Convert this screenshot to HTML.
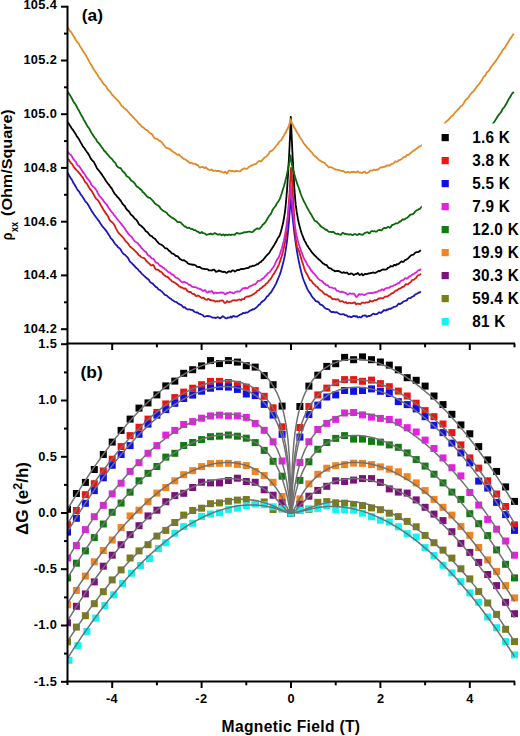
<!DOCTYPE html>
<html><head><meta charset="utf-8"><title>figure</title><style>html,body{margin:0;padding:0;background:#fff;width:520px;height:736px;overflow:hidden}
svg{display:block}
text{font-family:"Liberation Sans",sans-serif;font-weight:bold;fill:#000}
.tl{font-size:12.8px;letter-spacing:0.35px}
.lg{font-size:17px;letter-spacing:0.3px}
.pl{font-size:16.5px}
.al{font-size:15.4px}
.al2{font-size:17px}
.sub{font-size:11.4px}
.sup{font-size:12.5px}
.xl{font-size:15.6px;letter-spacing:0.35px}
</style></head><body>
<svg width="520" height="736" viewBox="0 0 520 736">
<defs><clipPath id="ca"><rect x="67.5" y="0" width="460" height="344"/></clipPath><clipPath id="cb"><rect x="67.5" y="344" width="460" height="338"/></clipPath></defs>
<rect width="520" height="736" fill="#fff"/>
<g clip-path="url(#ca)" fill="none" stroke-width="1.8" stroke-linejoin="round">
<path d="M67.8,172.8 L68.8,174.9 L69.8,176.8 L70.8,178.3 L71.8,179.6 L72.8,181.7 L73.8,183.5 L74.8,185.0 L75.8,186.7 L76.8,188.6 L77.8,190.3 L78.8,191.1 L79.8,192.8 L80.8,194.7 L81.8,195.6 L82.8,197.2 L83.8,198.7 L84.8,200.4 L85.8,201.9 L86.8,202.8 L87.8,204.3 L88.8,205.9 L89.8,207.7 L90.8,209.4 L91.8,211.4 L92.8,212.6 L93.8,214.4 L94.8,215.5 L95.8,216.9 L96.8,218.3 L97.8,219.6 L98.8,220.8 L99.8,222.6 L100.8,224.1 L101.8,225.5 L102.8,226.9 L103.8,227.9 L104.8,229.2 L105.8,230.4 L106.8,231.6 L107.8,233.4 L108.8,234.7 L109.8,236.4 L110.8,238.3 L111.8,239.2 L112.8,240.3 L113.8,241.9 L114.8,243.5 L115.8,244.7 L116.8,245.4 L117.8,247.0 L118.8,247.7 L119.8,248.4 L120.8,249.8 L121.8,251.7 L122.8,253.1 L123.8,254.2 L124.8,254.7 L125.8,255.7 L126.8,256.6 L127.8,257.6 L128.8,259.5 L129.8,261.4 L130.8,262.4 L131.8,263.0 L132.8,264.4 L133.8,265.2 L134.8,266.4 L135.8,267.6 L136.8,268.3 L137.8,269.2 L138.8,270.6 L139.8,271.5 L140.8,272.4 L141.8,273.8 L142.8,274.7 L143.8,275.6 L144.8,276.4 L145.8,277.6 L146.8,278.2 L147.8,279.0 L148.8,279.8 L149.8,281.6 L150.8,282.6 L151.8,283.2 L152.8,283.6 L153.8,284.8 L154.8,285.9 L155.8,287.0 L156.8,287.2 L157.8,288.6 L158.8,289.7 L159.8,289.9 L160.8,290.7 L161.8,291.4 L162.8,292.5 L163.8,293.7 L164.8,294.8 L165.8,295.1 L166.8,295.5 L167.8,296.6 L168.8,297.4 L169.8,298.2 L170.8,298.7 L171.8,299.8 L172.8,300.3 L173.8,300.9 L174.8,301.7 L175.8,301.8 L176.8,302.3 L177.8,303.3 L178.8,303.9 L179.8,304.4 L180.8,304.8 L181.8,305.5 L182.8,306.8 L183.8,307.5 L184.8,307.1 L185.8,308.4 L186.8,309.0 L187.8,309.5 L188.8,309.4 L189.8,309.4 L190.8,309.8 L191.8,309.9 L192.8,310.1 L193.8,311.3 L194.8,312.0 L195.8,312.3 L196.8,312.5 L197.8,312.5 L198.8,313.7 L199.8,313.9 L200.8,314.2 L201.8,314.7 L202.8,315.0 L203.8,316.4 L204.8,316.6 L205.8,316.4 L206.8,316.0 L207.8,315.8 L208.8,316.3 L209.8,316.2 L210.8,316.7 L211.8,317.2 L212.8,317.7 L213.8,317.6 L214.8,317.6 L215.8,318.1 L216.8,317.5 L217.8,317.1 L218.8,317.5 L219.8,318.4 L220.8,317.9 L221.8,317.0 L222.8,316.2 L223.8,316.8 L224.8,317.7 L225.8,318.3 L226.8,318.4 L227.8,317.4 L228.8,317.7 L229.8,317.6 L230.8,316.5 L231.8,317.5 L232.8,316.3 L233.8,315.9 L234.8,316.7 L235.8,316.7 L236.8,316.6 L237.8,316.1 L238.8,315.5 L239.8,314.8 L240.8,314.3 L241.8,314.1 L242.8,313.0 L243.8,313.2 L244.8,313.2 L245.8,312.4 L246.8,312.6 L247.8,312.3 L248.8,311.4 L249.8,310.7 L250.8,310.4 L251.8,309.9 L252.8,309.2 L253.8,309.4 L254.8,308.7 L255.8,307.8 L256.8,307.2 L257.8,306.1 L258.8,304.7 L259.8,304.6 L260.8,302.9 L261.8,302.0 L262.8,301.0 L263.8,300.6 L264.8,299.7 L265.8,298.2 L266.8,296.4 L267.8,296.2 L268.8,295.0 L269.8,293.2 L270.8,292.7 L271.8,291.0 L272.8,289.2 L273.8,287.8 L274.8,285.9 L275.8,284.1 L276.8,281.8 L277.8,279.4 L278.8,277.0 L279.8,274.6 L280.8,271.6 L281.8,268.0 L282.8,264.2 L283.8,260.1 L284.8,255.6 L285.0,254.6 L285.1,253.7 L285.3,252.9 L285.4,251.8 L285.6,250.7 L285.7,249.9 L285.8,249.5 L285.9,249.0 L286.0,248.0 L286.2,247.0 L286.3,245.8 L286.5,244.7 L286.6,243.8 L286.8,242.6 L287.0,241.3 L287.1,240.2 L287.3,238.8 L287.4,237.4 L287.6,235.9 L287.7,234.5 L287.8,233.8 L287.9,233.2 L288.0,231.6 L288.2,229.9 L288.3,228.3 L288.5,226.8 L288.6,225.0 L288.8,223.2 L289.0,221.3 L289.1,219.4 L289.3,217.5 L289.4,215.5 L289.6,213.5 L289.7,211.2 L289.8,210.0 L289.9,209.0 L290.0,206.7 L290.2,204.4 L290.3,201.9 L290.5,199.5 L290.6,197.2 L290.8,196.0 L291.0,198.1 L291.1,200.3 L291.3,202.2 L291.4,204.1 L291.6,206.0 L291.7,207.5 L291.8,208.3 L291.9,209.3 L292.0,211.1 L292.2,212.7 L292.3,214.4 L292.5,215.9 L292.6,217.4 L292.8,218.9 L293.0,220.4 L293.1,221.9 L293.3,223.3 L293.4,224.7 L293.6,226.2 L293.7,227.5 L293.8,228.4 L293.9,229.0 L294.0,230.0 L294.2,231.4 L294.3,232.8 L294.5,234.2 L294.6,235.2 L294.8,236.3 L295.0,237.5 L295.1,238.7 L295.3,239.8 L295.4,241.0 L295.6,242.0 L295.7,243.1 L295.8,243.9 L295.9,244.3 L296.0,245.1 L296.2,246.1 L296.3,247.2 L296.5,248.1 L296.6,249.1 L296.8,250.4 L297.8,256.2 L298.8,261.3 L299.8,266.0 L300.8,270.1 L301.8,274.1 L302.8,277.8 L303.8,280.5 L304.8,282.9 L305.8,285.3 L306.8,287.9 L307.8,289.9 L308.8,291.6 L309.8,292.8 L310.8,294.5 L311.8,296.2 L312.8,297.7 L313.8,298.7 L314.8,299.8 L315.8,301.2 L316.8,301.5 L317.8,301.5 L318.8,302.5 L319.8,304.0 L320.8,304.8 L321.8,304.9 L322.8,305.6 L323.8,306.9 L324.8,307.7 L325.8,308.4 L326.8,309.0 L327.8,309.2 L328.8,309.5 L329.8,310.8 L330.8,311.6 L331.8,312.1 L332.8,312.0 L333.8,312.0 L334.8,312.4 L335.8,312.5 L336.8,312.1 L337.8,312.9 L338.8,313.5 L339.8,314.1 L340.8,314.4 L341.8,314.3 L342.8,314.2 L343.8,314.2 L344.8,315.0 L345.8,315.1 L346.8,315.5 L347.8,316.5 L348.8,316.6 L349.8,316.4 L350.8,317.2 L351.8,317.1 L352.8,316.4 L353.8,315.9 L354.8,316.1 L355.8,316.6 L356.8,316.1 L357.8,317.4 L358.8,317.3 L359.8,316.9 L360.8,317.5 L361.8,316.8 L362.8,315.7 L363.8,315.6 L364.8,315.4 L365.8,315.7 L366.8,316.9 L367.8,316.3 L368.8,315.8 L369.8,316.0 L370.8,315.7 L371.8,314.7 L372.8,313.9 L373.8,313.6 L374.8,314.4 L375.8,314.2 L376.8,314.2 L377.8,313.4 L378.8,312.3 L379.8,312.5 L380.8,313.0 L381.8,312.1 L382.8,311.4 L383.8,310.1 L384.8,310.3 L385.8,310.5 L386.8,309.5 L387.8,309.8 L388.8,309.0 L389.8,308.6 L390.8,308.8 L391.8,308.0 L392.8,307.7 L393.8,306.9 L394.8,306.6 L395.8,306.6 L396.8,306.0 L397.8,304.6 L398.8,303.5 L399.8,304.2 L400.8,303.5 L401.8,303.1 L402.8,301.9 L403.8,301.3 L404.8,301.0 L405.8,300.7 L406.8,300.5 L407.8,298.7 L408.8,298.2 L409.8,298.2 L410.8,297.8 L411.8,297.0 L412.8,296.5 L413.8,296.1 L414.8,294.9 L415.8,294.1 L416.8,293.8 L417.8,293.3 L418.8,292.3 L419.8,292.5 L420.8,291.4" stroke="#1c16b8"/>
<path d="M68.0,159.0 L69.0,159.9 L70.0,161.8 L71.0,163.2 L72.0,164.1 L73.0,165.6 L74.0,167.3 L75.0,168.5 L76.0,169.5 L77.0,170.6 L78.0,171.6 L79.0,173.0 L80.0,173.9 L81.0,175.4 L82.0,176.7 L83.0,177.9 L84.0,179.9 L85.0,181.9 L86.0,182.7 L87.0,183.8 L88.0,185.7 L89.0,187.5 L90.0,188.9 L91.0,190.1 L92.0,191.3 L93.0,193.3 L94.0,195.1 L95.0,197.0 L96.0,198.6 L97.0,199.6 L98.0,200.3 L99.0,201.7 L100.0,203.6 L101.0,205.5 L102.0,207.1 L103.0,209.1 L104.0,210.5 L105.0,212.0 L106.0,213.7 L107.0,214.9 L108.0,216.3 L109.0,218.7 L110.0,220.4 L111.0,221.5 L112.0,222.2 L113.0,223.1 L114.0,224.6 L115.0,226.4 L116.0,228.6 L117.0,230.3 L118.0,231.9 L119.0,233.4 L120.0,234.3 L121.0,235.3 L122.0,236.3 L123.0,237.5 L124.0,238.6 L125.0,240.3 L126.0,241.6 L127.0,242.4 L128.0,243.5 L129.0,245.1 L130.0,246.5 L131.0,247.3 L132.0,248.1 L133.0,248.9 L134.0,249.9 L135.0,250.9 L136.0,251.8 L137.0,252.8 L138.0,254.2 L139.0,255.3 L140.0,255.7 L141.0,257.0 L142.0,257.5 L143.0,257.9 L144.0,257.9 L145.0,258.8 L146.0,260.7 L147.0,261.4 L148.0,262.6 L149.0,263.4 L150.0,264.3 L151.0,265.4 L152.0,265.3 L153.0,264.7 L154.0,266.1 L155.0,268.3 L156.0,269.6 L157.0,269.6 L158.0,269.7 L159.0,270.4 L160.0,271.6 L161.0,271.7 L162.0,272.6 L163.0,274.0 L164.0,274.9 L165.0,275.6 L166.0,276.6 L167.0,276.6 L168.0,277.1 L169.0,278.3 L170.0,279.3 L171.0,280.2 L172.0,281.5 L173.0,281.6 L174.0,282.3 L175.0,282.8 L176.0,283.6 L177.0,284.1 L178.0,285.0 L179.0,286.3 L180.0,286.7 L181.0,287.6 L182.0,287.5 L183.0,288.1 L184.0,288.9 L185.0,288.3 L186.0,288.9 L187.0,290.5 L188.0,291.5 L189.0,292.0 L190.0,292.0 L191.0,292.2 L192.0,293.5 L193.0,294.0 L194.0,293.8 L195.0,294.9 L196.0,296.1 L197.0,295.8 L198.0,295.4 L199.0,296.0 L200.0,296.7 L201.0,297.5 L202.0,298.0 L203.0,297.6 L204.0,298.0 L205.0,299.2 L206.0,299.7 L207.0,299.8 L208.0,298.9 L209.0,299.2 L210.0,300.2 L211.0,300.0 L212.0,300.5 L213.0,300.6 L214.0,300.7 L215.0,301.7 L216.0,301.4 L217.0,301.1 L218.0,301.4 L219.0,301.4 L220.0,300.7 L221.0,300.7 L222.0,300.5 L223.0,300.6 L224.0,302.3 L225.0,303.1 L226.0,302.5 L227.0,301.1 L228.0,301.8 L229.0,302.1 L230.0,301.6 L231.0,301.7 L232.0,300.8 L233.0,300.3 L234.0,300.3 L235.0,300.2 L236.0,300.3 L237.0,300.7 L238.0,299.8 L239.0,299.5 L240.0,299.7 L241.0,300.3 L242.0,299.1 L243.0,299.2 L244.0,299.2 L245.0,297.6 L246.0,297.0 L247.0,296.7 L248.0,296.3 L249.0,296.6 L250.0,295.9 L251.0,295.7 L252.0,295.1 L253.0,294.4 L254.0,293.9 L255.0,293.1 L256.0,292.5 L257.0,291.0 L258.0,290.5 L259.0,290.2 L260.0,288.7 L261.0,288.4 L262.0,287.5 L263.0,286.5 L264.0,285.8 L265.0,285.2 L266.0,283.7 L267.0,283.2 L268.0,282.1 L269.0,280.7 L270.0,279.6 L271.0,278.4 L272.0,276.6 L273.0,274.9 L274.0,273.7 L275.0,271.9 L276.0,270.1 L277.0,268.4 L278.0,266.5 L279.0,264.3 L280.0,261.4 L281.0,258.4 L282.0,255.3 L283.0,251.5 L284.0,247.1 L285.0,242.4 L285.2,241.6 L285.3,240.9 L285.5,240.1 L285.6,238.9 L285.8,237.6 L285.9,236.5 L286.0,235.8 L286.1,235.1 L286.2,233.6 L286.4,232.1 L286.5,230.7 L286.7,229.2 L286.8,227.6 L287.0,225.9 L287.2,224.1 L287.3,222.4 L287.5,220.5 L287.6,218.8 L287.8,216.9 L287.9,214.8 L288.0,213.8 L288.1,212.9 L288.2,210.9 L288.4,208.8 L288.5,206.8 L288.7,204.5 L288.8,202.3 L289.0,200.2 L289.2,198.0 L289.3,195.8 L289.5,193.4 L289.6,191.0 L289.8,188.6 L289.9,186.1 L290.0,184.8 L290.1,183.5 L290.2,181.0 L290.4,178.4 L290.5,175.6 L290.7,173.0 L290.8,170.3 L291.0,167.9 L291.2,168.0 L291.3,169.9 L291.5,171.9 L291.6,174.2 L291.8,176.4 L291.9,178.7 L292.0,179.9 L292.1,181.0 L292.2,183.5 L292.4,186.2 L292.5,188.8 L292.7,191.3 L292.8,194.0 L293.0,196.5 L293.2,199.2 L293.3,201.8 L293.5,204.5 L293.6,207.4 L293.8,210.1 L293.9,212.8 L294.0,214.2 L294.1,215.5 L294.2,218.2 L294.4,221.0 L294.5,223.7 L294.7,226.1 L294.8,228.3 L295.0,230.5 L295.2,232.6 L295.3,234.5 L295.5,236.2 L295.6,237.8 L295.8,239.2 L295.9,240.6 L296.0,241.1 L296.1,241.6 L296.2,242.6 L296.4,243.6 L296.5,244.5 L296.7,245.2 L296.8,246.0 L297.0,246.8 L298.0,248.9 L299.0,251.0 L300.0,254.4 L301.0,257.8 L302.0,261.3 L303.0,264.3 L304.0,267.6 L305.0,270.6 L306.0,272.7 L307.0,274.2 L308.0,276.1 L309.0,278.3 L310.0,279.9 L311.0,280.4 L312.0,281.6 L313.0,283.3 L314.0,284.1 L315.0,284.9 L316.0,286.3 L317.0,286.6 L318.0,287.7 L319.0,289.2 L320.0,289.8 L321.0,290.7 L322.0,291.2 L323.0,292.4 L324.0,293.5 L325.0,294.4 L326.0,294.4 L327.0,294.8 L328.0,295.6 L329.0,296.5 L330.0,296.5 L331.0,297.4 L332.0,298.8 L333.0,299.0 L334.0,299.1 L335.0,299.1 L336.0,299.7 L337.0,299.3 L338.0,299.2 L339.0,300.2 L340.0,301.6 L341.0,301.4 L342.0,301.0 L343.0,301.5 L344.0,302.4 L345.0,302.7 L346.0,302.0 L347.0,303.2 L348.0,303.4 L349.0,302.6 L350.0,302.8 L351.0,303.3 L352.0,303.2 L353.0,303.1 L354.0,302.4 L355.0,302.5 L356.0,304.4 L357.0,303.9 L358.0,303.5 L359.0,303.8 L360.0,304.2 L361.0,303.7 L362.0,302.6 L363.0,302.7 L364.0,302.9 L365.0,302.9 L366.0,302.3 L367.0,302.4 L368.0,302.5 L369.0,302.2 L370.0,300.6 L371.0,301.1 L372.0,301.5 L373.0,301.3 L374.0,300.6 L375.0,300.0 L376.0,300.3 L377.0,299.8 L378.0,298.8 L379.0,298.3 L380.0,298.6 L381.0,298.0 L382.0,298.3 L383.0,298.3 L384.0,297.4 L385.0,296.8 L386.0,296.5 L387.0,296.6 L388.0,296.2 L389.0,295.2 L390.0,294.7 L391.0,293.9 L392.0,293.2 L393.0,293.0 L394.0,292.2 L395.0,291.1 L396.0,290.5 L397.0,290.6 L398.0,289.5 L399.0,288.7 L400.0,288.6 L401.0,288.2 L402.0,287.0 L403.0,287.0 L404.0,286.4 L405.0,285.0 L406.0,284.2 L407.0,284.3 L408.0,284.3 L409.0,283.2 L410.0,282.7 L411.0,281.8 L412.0,280.2 L413.0,279.9 L414.0,279.6 L415.0,278.6 L416.0,278.0 L417.0,276.4 L418.0,275.3 L419.0,275.0 L420.0,274.7 L421.0,273.6" stroke="#d81a10"/>
<path d="M67.8,151.5 L68.8,153.3 L69.8,154.2 L70.8,154.8 L71.8,156.2 L72.8,158.1 L73.8,159.4 L74.8,160.8 L75.8,161.7 L76.8,164.1 L77.8,165.5 L78.8,165.9 L79.8,167.2 L80.8,168.7 L81.8,170.3 L82.8,172.0 L83.8,173.0 L84.8,174.3 L85.8,176.3 L86.8,177.9 L87.8,178.9 L88.8,180.1 L89.8,181.3 L90.8,183.5 L91.8,185.4 L92.8,186.3 L93.8,187.1 L94.8,187.9 L95.8,189.5 L96.8,190.8 L97.8,193.1 L98.8,195.2 L99.8,196.4 L100.8,197.4 L101.8,198.6 L102.8,199.7 L103.8,201.3 L104.8,202.7 L105.8,203.7 L106.8,204.5 L107.8,206.6 L108.8,208.2 L109.8,209.3 L110.8,211.0 L111.8,212.2 L112.8,212.9 L113.8,214.8 L114.8,215.9 L115.8,217.0 L116.8,218.6 L117.8,219.7 L118.8,221.0 L119.8,222.1 L120.8,223.4 L121.8,224.6 L122.8,225.9 L123.8,227.0 L124.8,228.4 L125.8,230.4 L126.8,231.6 L127.8,232.9 L128.8,234.5 L129.8,235.4 L130.8,236.1 L131.8,237.0 L132.8,238.7 L133.8,240.0 L134.8,241.1 L135.8,241.9 L136.8,242.5 L137.8,243.2 L138.8,244.9 L139.8,245.6 L140.8,246.9 L141.8,248.4 L142.8,249.4 L143.8,250.4 L144.8,251.3 L145.8,251.7 L146.8,253.3 L147.8,255.0 L148.8,255.8 L149.8,256.0 L150.8,257.5 L151.8,258.3 L152.8,258.6 L153.8,259.3 L154.8,260.9 L155.8,262.4 L156.8,262.9 L157.8,263.2 L158.8,264.5 L159.8,265.7 L160.8,266.1 L161.8,266.8 L162.8,267.6 L163.8,267.8 L164.8,269.0 L165.8,269.5 L166.8,270.7 L167.8,271.7 L168.8,272.2 L169.8,272.6 L170.8,273.6 L171.8,274.6 L172.8,274.5 L173.8,275.3 L174.8,276.6 L175.8,277.6 L176.8,277.8 L177.8,278.3 L178.8,279.2 L179.8,279.9 L180.8,281.3 L181.8,282.1 L182.8,282.3 L183.8,281.7 L184.8,282.1 L185.8,282.6 L186.8,282.8 L187.8,283.8 L188.8,284.8 L189.8,284.7 L190.8,285.4 L191.8,286.7 L192.8,286.9 L193.8,287.1 L194.8,287.2 L195.8,287.3 L196.8,287.8 L197.8,288.4 L198.8,288.5 L199.8,289.0 L200.8,289.2 L201.8,289.9 L202.8,291.0 L203.8,290.7 L204.8,290.0 L205.8,290.9 L206.8,292.4 L207.8,292.5 L208.8,291.4 L209.8,291.9 L210.8,291.7 L211.8,290.9 L212.8,292.4 L213.8,293.6 L214.8,292.6 L215.8,292.7 L216.8,293.3 L217.8,292.8 L218.8,292.8 L219.8,292.9 L220.8,292.4 L221.8,292.9 L222.8,292.5 L223.8,293.1 L224.8,294.0 L225.8,294.1 L226.8,293.0 L227.8,293.0 L228.8,292.7 L229.8,291.8 L230.8,292.3 L231.8,292.7 L232.8,293.1 L233.8,293.4 L234.8,292.4 L235.8,291.8 L236.8,291.5 L237.8,291.4 L238.8,291.6 L239.8,291.5 L240.8,290.2 L241.8,289.6 L242.8,288.3 L243.8,288.2 L244.8,288.5 L245.8,287.7 L246.8,288.3 L247.8,288.3 L248.8,287.0 L249.8,286.3 L250.8,286.1 L251.8,285.5 L252.8,285.0 L253.8,284.5 L254.8,284.4 L255.8,283.7 L256.8,282.5 L257.8,281.0 L258.8,280.8 L259.8,280.7 L260.8,280.2 L261.8,279.1 L262.8,278.6 L263.8,277.9 L264.8,276.6 L265.8,275.9 L266.8,274.6 L267.8,273.3 L268.8,272.7 L269.8,272.1 L270.8,270.7 L271.8,269.2 L272.8,268.1 L273.8,266.6 L274.8,264.6 L275.8,262.2 L276.8,260.1 L277.8,258.6 L278.8,257.3 L279.8,254.6 L280.8,251.4 L281.8,248.5 L282.8,244.7 L283.8,240.7 L284.8,235.9 L285.0,235.0 L285.1,234.3 L285.3,233.3 L285.4,232.2 L285.6,231.4 L285.7,230.6 L285.8,230.0 L285.9,229.5 L286.0,228.8 L286.2,227.8 L286.3,226.6 L286.5,225.6 L286.6,224.7 L286.8,223.8 L287.0,222.6 L287.1,221.5 L287.3,220.4 L287.4,219.2 L287.6,218.0 L287.7,216.8 L287.8,216.1 L287.9,215.5 L288.0,214.5 L288.2,213.3 L288.3,211.9 L288.5,210.4 L288.6,209.1 L288.8,207.6 L289.0,206.1 L289.1,204.7 L289.3,203.3 L289.4,201.8 L289.6,200.2 L289.7,198.7 L289.8,197.9 L289.9,197.1 L290.0,195.4 L290.2,193.5 L290.3,191.6 L290.5,189.7 L290.6,187.6 L290.8,185.6 L291.0,187.6 L291.1,189.8 L291.3,192.1 L291.4,194.1 L291.6,196.0 L291.7,198.0 L291.8,199.0 L291.9,199.9 L292.0,201.7 L292.2,203.4 L292.3,205.0 L292.5,206.7 L292.6,208.3 L292.8,209.8 L293.0,211.1 L293.1,212.5 L293.3,214.0 L293.4,215.4 L293.6,216.9 L293.7,217.9 L293.8,218.5 L293.9,219.3 L294.0,220.2 L294.2,221.4 L294.3,222.7 L294.5,223.7 L294.6,224.8 L294.8,226.0 L295.0,227.1 L295.1,227.8 L295.3,228.6 L295.4,229.3 L295.6,230.1 L295.7,231.0 L295.8,231.5 L295.9,231.8 L296.0,232.7 L296.2,233.3 L296.3,234.0 L296.5,234.8 L296.6,235.5 L296.8,236.2 L297.8,240.4 L298.8,244.1 L299.8,247.2 L300.8,250.4 L301.8,252.9 L302.8,255.4 L303.8,258.1 L304.8,260.0 L305.8,261.3 L306.8,263.6 L307.8,265.6 L308.8,266.6 L309.8,268.2 L310.8,270.0 L311.8,271.0 L312.8,272.7 L313.8,273.2 L314.8,274.3 L315.8,275.5 L316.8,276.8 L317.8,278.2 L318.8,279.1 L319.8,279.9 L320.8,280.5 L321.8,280.8 L322.8,281.9 L323.8,283.2 L324.8,283.6 L325.8,284.9 L326.8,285.1 L327.8,285.4 L328.8,286.7 L329.8,287.3 L330.8,287.3 L331.8,287.6 L332.8,288.0 L333.8,288.3 L334.8,288.2 L335.8,289.4 L336.8,290.8 L337.8,290.8 L338.8,291.3 L339.8,291.9 L340.8,291.9 L341.8,291.7 L342.8,291.9 L343.8,292.3 L344.8,292.8 L345.8,293.0 L346.8,293.9 L347.8,294.6 L348.8,293.9 L349.8,293.1 L350.8,293.7 L351.8,293.8 L352.8,293.6 L353.8,293.6 L354.8,294.5 L355.8,296.6 L356.8,297.0 L357.8,295.7 L358.8,294.1 L359.8,294.3 L360.8,294.7 L361.8,294.2 L362.8,294.5 L363.8,294.9 L364.8,295.0 L365.8,294.3 L366.8,293.8 L367.8,293.3 L368.8,293.1 L369.8,293.1 L370.8,293.0 L371.8,293.2 L372.8,292.8 L373.8,292.5 L374.8,292.7 L375.8,292.0 L376.8,291.8 L377.8,291.5 L378.8,290.7 L379.8,290.6 L380.8,290.3 L381.8,289.5 L382.8,289.3 L383.8,290.3 L384.8,289.0 L385.8,288.3 L386.8,288.0 L387.8,287.9 L388.8,287.9 L389.8,287.4 L390.8,286.4 L391.8,286.3 L392.8,286.0 L393.8,285.3 L394.8,285.2 L395.8,284.6 L396.8,284.0 L397.8,283.1 L398.8,283.3 L399.8,282.2 L400.8,281.0 L401.8,280.4 L402.8,280.1 L403.8,279.7 L404.8,278.3 L405.8,278.2 L406.8,278.8 L407.8,278.2 L408.8,276.8 L409.8,276.3 L410.8,275.9 L411.8,275.0 L412.8,274.3 L413.8,274.0 L414.8,273.2 L415.8,272.6 L416.8,272.0 L417.8,270.7 L418.8,270.2 L419.8,270.3 L420.8,268.8" stroke="#d820d8"/>
<path d="M67.8,122.6 L68.8,123.7 L69.8,125.4 L70.8,126.8 L71.8,128.7 L72.8,129.7 L73.8,131.3 L74.8,132.8 L75.8,134.2 L76.8,136.3 L77.8,137.4 L78.8,138.9 L79.8,140.8 L80.8,142.7 L81.8,144.2 L82.8,146.3 L83.8,147.5 L84.8,148.8 L85.8,150.5 L86.8,151.8 L87.8,153.0 L88.8,154.7 L89.8,156.7 L90.8,158.6 L91.8,159.9 L92.8,161.0 L93.8,161.9 L94.8,163.8 L95.8,165.8 L96.8,167.9 L97.8,169.4 L98.8,170.4 L99.8,171.8 L100.8,173.1 L101.8,174.4 L102.8,176.0 L103.8,177.4 L104.8,179.1 L105.8,180.7 L106.8,182.0 L107.8,183.6 L108.8,184.5 L109.8,186.1 L110.8,187.5 L111.8,188.5 L112.8,190.5 L113.8,192.3 L114.8,193.9 L115.8,194.8 L116.8,196.2 L117.8,197.4 L118.8,198.2 L119.8,199.7 L120.8,200.9 L121.8,202.6 L122.8,204.2 L123.8,205.2 L124.8,206.0 L125.8,208.1 L126.8,209.4 L127.8,210.6 L128.8,211.3 L129.8,212.7 L130.8,214.6 L131.8,215.3 L132.8,216.1 L133.8,217.4 L134.8,218.8 L135.8,219.3 L136.8,220.5 L137.8,222.0 L138.8,224.1 L139.8,225.0 L140.8,225.6 L141.8,226.5 L142.8,227.4 L143.8,228.3 L144.8,229.7 L145.8,231.2 L146.8,231.7 L147.8,232.5 L148.8,233.9 L149.8,235.3 L150.8,235.8 L151.8,236.2 L152.8,237.3 L153.8,238.2 L154.8,238.7 L155.8,239.8 L156.8,241.1 L157.8,242.1 L158.8,243.5 L159.8,244.0 L160.8,244.4 L161.8,245.1 L162.8,245.7 L163.8,246.7 L164.8,248.0 L165.8,248.4 L166.8,248.3 L167.8,249.3 L168.8,250.7 L169.8,251.1 L170.8,252.1 L171.8,253.4 L172.8,253.7 L173.8,254.1 L174.8,254.9 L175.8,256.0 L176.8,256.0 L177.8,256.3 L178.8,257.6 L179.8,258.9 L180.8,259.3 L181.8,260.2 L182.8,260.5 L183.8,260.1 L184.8,260.8 L185.8,261.4 L186.8,262.1 L187.8,263.3 L188.8,263.9 L189.8,264.2 L190.8,264.5 L191.8,264.4 L192.8,264.9 L193.8,264.7 L194.8,265.0 L195.8,265.5 L196.8,266.7 L197.8,266.8 L198.8,267.2 L199.8,266.9 L200.8,267.8 L201.8,268.5 L202.8,268.6 L203.8,268.8 L204.8,269.0 L205.8,269.1 L206.8,269.1 L207.8,269.3 L208.8,270.3 L209.8,270.3 L210.8,270.4 L211.8,270.5 L212.8,269.8 L213.8,269.6 L214.8,270.3 L215.8,271.8 L216.8,271.5 L217.8,271.3 L218.8,270.4 L219.8,270.9 L220.8,271.4 L221.8,271.5 L222.8,272.1 L223.8,271.6 L224.8,271.8 L225.8,272.6 L226.8,272.8 L227.8,272.0 L228.8,271.3 L229.8,271.5 L230.8,271.9 L231.8,270.8 L232.8,270.3 L233.8,270.6 L234.8,271.5 L235.8,271.1 L236.8,270.1 L237.8,270.0 L238.8,270.1 L239.8,269.7 L240.8,269.1 L241.8,269.0 L242.8,269.1 L243.8,268.8 L244.8,268.7 L245.8,268.3 L246.8,268.0 L247.8,268.2 L248.8,267.7 L249.8,266.5 L250.8,266.7 L251.8,266.2 L252.8,265.7 L253.8,265.9 L254.8,265.5 L255.8,264.9 L256.8,264.2 L257.8,264.3 L258.8,263.3 L259.8,262.3 L260.8,262.1 L261.8,260.8 L262.8,260.3 L263.8,259.0 L264.8,257.7 L265.8,256.5 L266.8,255.3 L267.8,254.3 L268.8,253.5 L269.8,251.9 L270.8,250.1 L271.8,248.8 L272.8,247.1 L273.8,245.8 L274.8,243.9 L275.8,242.2 L276.8,240.5 L277.8,238.1 L278.8,237.0 L279.8,235.1 L280.8,231.9 L281.8,228.3 L282.8,224.2 L283.8,219.3 L284.8,212.8 L285.0,211.5 L285.1,210.4 L285.3,209.3 L285.4,207.9 L285.6,206.3 L285.7,204.9 L285.8,204.2 L285.9,203.5 L286.0,201.8 L286.2,200.2 L286.3,198.5 L286.5,196.6 L286.6,194.6 L286.8,192.6 L287.0,190.5 L287.1,188.5 L287.3,186.3 L287.4,183.8 L287.6,181.5 L287.7,179.3 L287.8,178.1 L287.9,176.8 L288.0,174.3 L288.2,171.8 L288.3,169.1 L288.5,166.5 L288.6,163.8 L288.8,161.0 L289.0,158.1 L289.1,155.2 L289.3,152.3 L289.4,149.3 L289.6,146.2 L289.7,143.0 L289.8,141.3 L289.9,139.7 L290.0,136.4 L290.2,132.9 L290.3,129.3 L290.5,125.5 L290.6,121.5 L290.8,116.8 L291.0,120.4 L291.1,123.9 L291.3,127.4 L291.4,130.9 L291.6,134.2 L291.7,137.5 L291.8,139.2 L291.9,140.8 L292.0,144.0 L292.2,147.2 L292.3,150.4 L292.5,153.5 L292.6,156.7 L292.8,159.7 L293.0,162.6 L293.1,165.6 L293.3,168.6 L293.4,171.5 L293.6,174.4 L293.7,177.2 L293.8,178.5 L293.9,179.9 L294.0,182.4 L294.2,185.0 L294.3,187.5 L294.5,189.8 L294.6,192.1 L294.8,194.1 L295.0,196.1 L295.1,198.0 L295.3,199.8 L295.4,201.3 L295.6,202.9 L295.7,204.4 L295.8,205.2 L295.9,205.8 L296.0,207.0 L296.2,208.0 L296.3,209.0 L296.5,210.2 L296.6,211.4 L296.8,212.3 L297.8,218.2 L298.8,223.0 L299.8,226.9 L300.8,230.6 L301.8,233.7 L302.8,236.3 L303.8,239.0 L304.8,241.1 L305.8,242.8 L306.8,245.0 L307.8,246.2 L308.8,247.9 L309.8,249.3 L310.8,250.7 L311.8,252.2 L312.8,253.3 L313.8,254.5 L314.8,255.5 L315.8,256.4 L316.8,257.6 L317.8,258.4 L318.8,259.5 L319.8,260.1 L320.8,261.2 L321.8,262.2 L322.8,263.3 L323.8,263.6 L324.8,264.7 L325.8,264.9 L326.8,265.2 L327.8,266.9 L328.8,267.9 L329.8,268.4 L330.8,268.3 L331.8,269.2 L332.8,270.0 L333.8,270.4 L334.8,271.4 L335.8,271.0 L336.8,271.2 L337.8,270.9 L338.8,271.1 L339.8,271.6 L340.8,272.2 L341.8,272.8 L342.8,272.8 L343.8,272.1 L344.8,272.9 L345.8,272.9 L346.8,272.5 L347.8,273.3 L348.8,274.3 L349.8,274.2 L350.8,273.4 L351.8,273.6 L352.8,274.2 L353.8,275.0 L354.8,274.4 L355.8,274.0 L356.8,273.8 L357.8,273.0 L358.8,274.2 L359.8,275.0 L360.8,274.4 L361.8,273.8 L362.8,275.3 L363.8,274.9 L364.8,274.0 L365.8,274.0 L366.8,274.2 L367.8,273.7 L368.8,273.5 L369.8,273.4 L370.8,272.8 L371.8,273.0 L372.8,272.4 L373.8,272.7 L374.8,273.0 L375.8,272.6 L376.8,272.2 L377.8,271.3 L378.8,270.9 L379.8,271.3 L380.8,270.6 L381.8,269.8 L382.8,269.5 L383.8,269.3 L384.8,269.6 L385.8,269.6 L386.8,269.2 L387.8,267.9 L388.8,267.6 L389.8,267.0 L390.8,266.0 L391.8,266.3 L392.8,266.3 L393.8,265.2 L394.8,264.8 L395.8,265.4 L396.8,264.2 L397.8,264.3 L398.8,263.7 L399.8,262.9 L400.8,261.9 L401.8,261.4 L402.8,262.0 L403.8,261.6 L404.8,260.2 L405.8,259.9 L406.8,259.2 L407.8,258.7 L408.8,257.7 L409.8,256.6 L410.8,255.5 L411.8,254.9 L412.8,254.9 L413.8,254.3 L414.8,253.2 L415.8,252.3 L416.8,252.1 L417.8,252.1 L418.8,251.8 L419.8,251.1 L420.8,250.0" stroke="#000000"/>
<path d="M67.7,91.9 L68.7,93.4 L69.7,94.7 L70.7,96.4 L71.7,98.1 L72.7,100.0 L73.7,102.1 L74.7,103.3 L75.7,104.8 L76.7,106.6 L77.7,108.7 L78.7,110.2 L79.7,112.1 L80.7,114.2 L81.7,115.8 L82.7,117.4 L83.7,119.6 L84.7,121.3 L85.7,123.0 L86.7,124.8 L87.7,126.7 L88.7,127.8 L89.7,129.3 L90.7,131.3 L91.7,133.2 L92.7,134.5 L93.7,136.3 L94.7,137.8 L95.7,138.7 L96.7,140.7 L97.7,142.2 L98.7,143.1 L99.7,144.4 L100.7,145.8 L101.7,147.3 L102.7,148.4 L103.7,150.1 L104.7,151.4 L105.7,151.9 L106.7,153.4 L107.7,154.7 L108.7,155.7 L109.7,157.1 L110.7,158.0 L111.7,158.7 L112.7,160.0 L113.7,161.4 L114.7,162.2 L115.7,163.5 L116.7,165.8 L117.7,166.9 L118.7,167.6 L119.7,168.0 L120.7,168.2 L121.7,169.8 L122.7,171.2 L123.7,172.0 L124.7,173.0 L125.7,174.6 L126.7,176.2 L127.7,176.7 L128.7,177.3 L129.7,178.3 L130.7,180.0 L131.7,180.8 L132.7,181.5 L133.7,182.3 L134.7,183.3 L135.7,184.9 L136.7,186.4 L137.7,187.0 L138.7,187.8 L139.7,188.5 L140.7,189.5 L141.7,190.3 L142.7,192.0 L143.7,192.7 L144.7,193.8 L145.7,194.9 L146.7,196.2 L147.7,197.1 L148.7,197.6 L149.7,197.8 L150.7,198.6 L151.7,199.6 L152.7,200.6 L153.7,201.8 L154.7,203.3 L155.7,204.1 L156.7,204.8 L157.7,205.3 L158.7,206.0 L159.7,207.0 L160.7,208.7 L161.7,209.6 L162.7,210.5 L163.7,211.1 L164.7,211.5 L165.7,212.2 L166.7,212.7 L167.7,214.3 L168.7,215.2 L169.7,216.0 L170.7,216.8 L171.7,217.6 L172.7,218.1 L173.7,218.7 L174.7,219.3 L175.7,220.1 L176.7,221.2 L177.7,222.0 L178.7,222.1 L179.7,222.0 L180.7,222.5 L181.7,223.7 L182.7,224.5 L183.7,225.7 L184.7,226.6 L185.7,226.5 L186.7,227.6 L187.7,228.0 L188.7,227.6 L189.7,228.1 L190.7,228.9 L191.7,228.8 L192.7,229.1 L193.7,230.1 L194.7,230.1 L195.7,230.4 L196.7,231.3 L197.7,231.6 L198.7,232.1 L199.7,233.0 L200.7,232.9 L201.7,232.0 L202.7,233.0 L203.7,233.2 L204.7,233.5 L205.7,234.2 L206.7,234.9 L207.7,234.5 L208.7,234.1 L209.7,234.0 L210.7,233.5 L211.7,234.3 L212.7,234.4 L213.7,233.5 L214.7,233.2 L215.7,233.4 L216.7,234.0 L217.7,234.7 L218.7,234.5 L219.7,234.2 L220.7,234.6 L221.7,235.3 L222.7,234.6 L223.7,234.5 L224.7,235.5 L225.7,234.6 L226.7,234.8 L227.7,235.1 L228.7,234.7 L229.7,234.6 L230.7,235.1 L231.7,234.7 L232.7,234.6 L233.7,234.6 L234.7,234.9 L235.7,233.7 L236.7,233.0 L237.7,233.2 L238.7,233.6 L239.7,233.6 L240.7,233.5 L241.7,233.2 L242.7,233.2 L243.7,232.3 L244.7,232.1 L245.7,232.4 L246.7,232.1 L247.7,231.8 L248.7,231.7 L249.7,231.6 L250.7,231.9 L251.7,232.1 L252.7,231.9 L253.7,231.0 L254.7,230.0 L255.7,229.3 L256.7,228.7 L257.7,228.4 L258.7,228.9 L259.7,228.7 L260.7,227.5 L261.7,226.2 L262.7,224.7 L263.7,224.0 L264.7,223.0 L265.7,221.7 L266.7,220.0 L267.7,218.3 L268.7,216.6 L269.7,215.2 L270.7,214.2 L271.7,212.1 L272.7,209.7 L273.7,208.3 L274.7,207.0 L275.7,205.8 L276.7,203.5 L277.7,202.2 L278.7,200.8 L279.7,199.1 L280.7,196.6 L281.7,193.4 L282.7,190.1 L283.7,186.9 L284.7,183.4 L284.9,182.9 L285.0,182.2 L285.2,181.6 L285.3,181.3 L285.5,180.6 L285.6,179.9 L285.7,179.5 L285.8,179.1 L285.9,178.6 L286.1,178.4 L286.2,177.4 L286.4,176.6 L286.5,176.2 L286.7,175.3 L286.9,174.5 L287.0,173.7 L287.2,172.9 L287.3,172.1 L287.5,171.7 L287.6,171.3 L287.7,170.7 L287.8,170.2 L287.9,169.6 L288.1,168.7 L288.2,167.6 L288.4,166.8 L288.5,166.1 L288.7,165.4 L288.9,164.3 L289.0,163.5 L289.2,162.7 L289.3,162.0 L289.5,161.1 L289.6,160.3 L289.7,160.0 L289.8,159.5 L289.9,158.9 L290.1,157.9 L290.2,157.0 L290.4,156.1 L290.5,155.5 L290.7,156.1 L290.9,158.2 L291.0,159.5 L291.2,160.4 L291.3,161.1 L291.5,161.9 L291.6,163.0 L291.7,163.5 L291.8,164.0 L291.9,164.8 L292.1,165.4 L292.2,165.4 L292.4,166.0 L292.5,167.1 L292.7,167.7 L292.9,168.7 L293.0,169.4 L293.2,169.9 L293.3,170.3 L293.5,170.7 L293.6,171.5 L293.7,171.9 L293.8,172.4 L293.9,173.2 L294.1,173.5 L294.2,174.2 L294.4,174.9 L294.5,175.0 L294.7,175.3 L294.9,175.8 L295.0,176.3 L295.2,176.8 L295.3,177.8 L295.5,178.7 L295.6,178.9 L295.7,178.9 L295.8,179.1 L295.9,179.7 L296.1,180.1 L296.2,180.6 L296.4,181.2 L296.5,181.9 L296.7,182.4 L297.7,185.2 L298.7,187.8 L299.7,190.6 L300.7,193.7 L301.7,196.3 L302.7,198.5 L303.7,201.1 L304.7,202.7 L305.7,204.6 L306.7,206.7 L307.7,208.5 L308.7,210.4 L309.7,212.2 L310.7,213.7 L311.7,215.4 L312.7,217.2 L313.7,219.1 L314.7,220.7 L315.7,221.2 L316.7,221.6 L317.7,222.8 L318.7,223.7 L319.7,225.0 L320.7,226.0 L321.7,227.0 L322.7,227.6 L323.7,228.3 L324.7,229.0 L325.7,229.9 L326.7,229.6 L327.7,230.9 L328.7,231.7 L329.7,231.8 L330.7,231.9 L331.7,232.1 L332.7,231.9 L333.7,232.0 L334.7,233.1 L335.7,233.7 L336.7,233.8 L337.7,233.6 L338.7,234.2 L339.7,234.5 L340.7,234.9 L341.7,233.9 L342.7,232.7 L343.7,233.2 L344.7,234.0 L345.7,233.7 L346.7,234.4 L347.7,234.2 L348.7,234.5 L349.7,234.5 L350.7,234.2 L351.7,234.8 L352.7,235.2 L353.7,234.4 L354.7,234.1 L355.7,234.2 L356.7,234.9 L357.7,234.9 L358.7,234.0 L359.7,234.0 L360.7,234.5 L361.7,234.5 L362.7,234.8 L363.7,233.9 L364.7,233.0 L365.7,232.6 L366.7,232.4 L367.7,232.1 L368.7,233.1 L369.7,233.4 L370.7,231.7 L371.7,231.1 L372.7,231.2 L373.7,231.4 L374.7,231.2 L375.7,231.7 L376.7,231.6 L377.7,230.5 L378.7,230.1 L379.7,229.8 L380.7,230.3 L381.7,230.3 L382.7,228.9 L383.7,228.2 L384.7,227.9 L385.7,228.2 L386.7,227.8 L387.7,226.9 L388.7,226.9 L389.7,227.8 L390.7,227.2 L391.7,225.4 L392.7,224.9 L393.7,224.5 L394.7,224.1 L395.7,223.3 L396.7,223.4 L397.7,223.4 L398.7,222.6 L399.7,221.4 L400.7,221.5 L401.7,220.1 L402.7,219.3 L403.7,219.8 L404.7,219.3 L405.7,218.4 L406.7,218.0 L407.7,217.4 L408.7,216.3 L409.7,215.1 L410.7,214.6 L411.7,214.3 L412.7,214.3 L413.7,213.6 L414.7,212.2 L415.7,211.0 L416.7,210.3 L417.7,210.0 L418.7,209.2 L419.7,209.0 L420.7,207.8 L421.7,206.7 L422.7,206.0 L423.7,204.8 L424.7,203.6 L425.7,203.0 L426.7,202.3 L427.7,201.1 L428.7,200.1 L429.7,199.1 L430.7,197.6 L431.7,196.9 L432.7,196.1 L433.7,195.0 L434.7,194.6 L435.7,193.4 L436.7,191.5 L437.7,190.9 L438.7,190.4 L439.7,189.3 L440.7,188.4 L441.7,187.2 L442.7,185.6 L443.7,184.7 L444.7,183.3 L445.7,181.8 L446.7,181.4 L447.7,180.3 L448.7,179.3 L449.7,178.6 L450.7,177.5 L451.7,175.9 L452.7,174.4 L453.7,173.4 L454.7,172.8 L455.7,171.6 L456.7,171.0 L457.7,169.7 L458.7,168.0 L459.7,167.1 L460.7,165.4 L461.7,164.1 L462.7,162.9 L463.7,161.5 L464.7,160.6 L465.7,159.9 L466.7,159.3 L467.7,157.7 L468.7,155.8 L469.7,154.7 L470.7,153.7 L471.7,152.0 L472.7,150.5 L473.7,149.2 L474.7,147.8 L475.7,146.8 L476.7,145.6 L477.7,144.7 L478.7,143.0 L479.7,141.4 L480.7,140.6 L481.7,139.0 L482.7,137.5 L483.7,136.4 L484.7,134.7 L485.7,132.9 L486.7,131.9 L487.7,131.4 L488.7,130.2 L489.7,128.3 L490.7,126.7 L491.7,125.0 L492.7,124.1 L493.7,122.7 L494.7,121.3 L495.7,119.6 L496.7,118.0 L497.7,116.2 L498.7,115.1 L499.7,113.6 L500.7,112.5 L501.7,111.0 L502.7,108.7 L503.7,107.8 L504.7,106.4 L505.7,104.8 L506.7,103.2 L507.7,101.1 L508.7,99.1 L509.7,97.7 L510.7,96.1 L511.7,94.2 L512.7,93.2 L513.7,91.8" stroke="#0a680a"/>
<path d="M67.7,27.2 L68.7,29.1 L69.7,30.7 L70.7,31.5 L71.7,32.9 L72.7,34.7 L73.7,36.2 L74.7,38.0 L75.7,39.8 L76.7,41.2 L77.7,42.5 L78.7,43.5 L79.7,45.7 L80.7,47.3 L81.7,48.7 L82.7,50.4 L83.7,51.9 L84.7,53.4 L85.7,54.9 L86.7,56.9 L87.7,58.6 L88.7,60.5 L89.7,62.7 L90.7,64.1 L91.7,65.4 L92.7,67.5 L93.7,69.4 L94.7,70.7 L95.7,72.2 L96.7,73.6 L97.7,75.0 L98.7,77.0 L99.7,78.4 L100.7,79.6 L101.7,81.0 L102.7,82.5 L103.7,84.2 L104.7,85.0 L105.7,85.8 L106.7,87.7 L107.7,89.4 L108.7,90.6 L109.7,91.3 L110.7,92.4 L111.7,94.4 L112.7,95.1 L113.7,96.3 L114.7,97.4 L115.7,98.3 L116.7,99.4 L117.7,100.3 L118.7,101.5 L119.7,102.8 L120.7,104.4 L121.7,106.1 L122.7,106.4 L123.7,107.7 L124.7,108.6 L125.7,109.2 L126.7,110.0 L127.7,111.3 L128.7,112.3 L129.7,113.7 L130.7,114.7 L131.7,115.5 L132.7,117.0 L133.7,117.9 L134.7,118.8 L135.7,119.9 L136.7,120.8 L137.7,122.3 L138.7,123.5 L139.7,124.1 L140.7,125.3 L141.7,126.6 L142.7,127.1 L143.7,127.7 L144.7,129.0 L145.7,129.6 L146.7,130.1 L147.7,130.7 L148.7,131.9 L149.7,132.8 L150.7,133.7 L151.7,133.9 L152.7,135.1 L153.7,137.2 L154.7,138.4 L155.7,138.7 L156.7,139.0 L157.7,139.1 L158.7,140.5 L159.7,141.0 L160.7,141.2 L161.7,142.3 L162.7,143.4 L163.7,144.9 L164.7,146.0 L165.7,147.5 L166.7,148.0 L167.7,148.1 L168.7,148.6 L169.7,148.9 L170.7,150.1 L171.7,150.7 L172.7,151.5 L173.7,152.3 L174.7,152.8 L175.7,153.4 L176.7,154.5 L177.7,154.9 L178.7,154.4 L179.7,155.4 L180.7,156.4 L181.7,157.0 L182.7,158.0 L183.7,158.9 L184.7,159.2 L185.7,159.7 L186.7,160.7 L187.7,161.1 L188.7,161.8 L189.7,163.0 L190.7,163.0 L191.7,162.7 L192.7,163.7 L193.7,163.7 L194.7,163.9 L195.7,164.0 L196.7,165.0 L197.7,164.9 L198.7,166.2 L199.7,167.5 L200.7,167.3 L201.7,167.0 L202.7,166.9 L203.7,167.6 L204.7,168.1 L205.7,167.1 L206.7,167.9 L207.7,169.3 L208.7,169.4 L209.7,170.1 L210.7,170.1 L211.7,169.5 L212.7,170.2 L213.7,171.0 L214.7,170.6 L215.7,170.7 L216.7,171.1 L217.7,170.8 L218.7,171.0 L219.7,171.5 L220.7,171.4 L221.7,171.6 L222.7,172.3 L223.7,172.8 L224.7,171.9 L225.7,171.9 L226.7,173.5 L227.7,172.5 L228.7,170.7 L229.7,170.7 L230.7,170.7 L231.7,171.4 L232.7,170.8 L233.7,171.1 L234.7,171.9 L235.7,171.0 L236.7,170.8 L237.7,171.1 L238.7,171.3 L239.7,171.3 L240.7,170.9 L241.7,169.7 L242.7,169.3 L243.7,168.3 L244.7,168.5 L245.7,168.7 L246.7,169.0 L247.7,168.1 L248.7,167.1 L249.7,166.5 L250.7,165.8 L251.7,165.4 L252.7,165.0 L253.7,164.7 L254.7,164.1 L255.7,163.9 L256.7,163.5 L257.7,162.1 L258.7,161.3 L259.7,160.9 L260.7,161.6 L261.7,161.0 L262.7,159.6 L263.7,158.4 L264.7,157.4 L265.7,157.1 L266.7,156.2 L267.7,155.2 L268.7,153.8 L269.7,151.8 L270.7,151.1 L271.7,150.8 L272.7,150.2 L273.7,148.8 L274.7,147.8 L275.7,146.5 L276.7,145.2 L277.7,144.3 L278.7,142.5 L279.7,141.3 L280.7,140.8 L281.7,139.5 L282.7,137.6 L283.7,136.0 L284.7,133.9 L284.9,133.6 L285.0,133.6 L285.2,133.4 L285.3,133.0 L285.5,132.4 L285.6,132.4 L285.7,132.0 L285.8,132.2 L285.9,132.7 L286.1,132.1 L286.2,131.2 L286.4,130.9 L286.5,130.4 L286.7,130.0 L286.9,129.7 L287.0,129.6 L287.2,129.5 L287.3,129.6 L287.5,129.6 L287.6,128.9 L287.7,128.4 L287.8,128.0 L287.9,128.1 L288.1,127.9 L288.2,127.7 L288.4,127.2 L288.5,126.9 L288.7,126.1 L288.9,125.6 L289.0,125.3 L289.2,125.0 L289.3,124.7 L289.5,124.2 L289.6,123.2 L289.7,123.1 L289.8,123.1 L289.9,123.0 L290.1,122.5 L290.2,122.1 L290.4,121.6 L290.5,120.7 L290.7,119.1 L290.9,120.4 L291.0,120.8 L291.2,120.9 L291.3,121.4 L291.5,121.7 L291.6,122.0 L291.7,122.3 L291.8,123.0 L291.9,123.0 L292.1,123.2 L292.2,123.4 L292.4,124.2 L292.5,124.7 L292.7,124.6 L292.9,124.6 L293.0,125.1 L293.2,125.5 L293.3,126.0 L293.5,126.3 L293.6,126.5 L293.7,126.5 L293.8,126.6 L293.9,127.1 L294.1,127.6 L294.2,127.7 L294.4,127.9 L294.5,128.0 L294.7,128.1 L294.9,128.2 L295.0,128.7 L295.2,128.7 L295.3,128.6 L295.5,129.0 L295.6,129.4 L295.7,129.8 L295.8,130.2 L295.9,130.8 L296.1,130.9 L296.2,130.8 L296.4,131.0 L296.5,131.3 L296.7,131.7 L297.7,133.5 L298.7,135.0 L299.7,136.9 L300.7,138.6 L301.7,139.8 L302.7,141.4 L303.7,143.4 L304.7,144.5 L305.7,145.5 L306.7,147.0 L307.7,148.0 L308.7,149.1 L309.7,150.6 L310.7,151.3 L311.7,152.3 L312.7,153.8 L313.7,155.2 L314.7,156.1 L315.7,156.6 L316.7,157.6 L317.7,158.5 L318.7,159.8 L319.7,160.4 L320.7,160.9 L321.7,161.8 L322.7,162.0 L323.7,162.5 L324.7,163.1 L325.7,164.5 L326.7,165.2 L327.7,166.2 L328.7,167.5 L329.7,167.2 L330.7,167.2 L331.7,167.4 L332.7,168.0 L333.7,168.4 L334.7,169.1 L335.7,169.6 L336.7,169.7 L337.7,169.8 L338.7,170.0 L339.7,170.3 L340.7,170.7 L341.7,171.0 L342.7,170.8 L343.7,171.1 L344.7,172.0 L345.7,172.7 L346.7,172.3 L347.7,171.9 L348.7,172.2 L349.7,172.8 L350.7,172.1 L351.7,171.8 L352.7,172.0 L353.7,171.8 L354.7,172.1 L355.7,172.5 L356.7,172.0 L357.7,171.3 L358.7,172.4 L359.7,172.7 L360.7,172.4 L361.7,173.1 L362.7,172.6 L363.7,171.9 L364.7,171.6 L365.7,173.1 L366.7,173.3 L367.7,172.7 L368.7,172.2 L369.7,170.9 L370.7,170.5 L371.7,170.7 L372.7,170.3 L373.7,169.6 L374.7,169.9 L375.7,170.0 L376.7,169.6 L377.7,169.8 L378.7,169.0 L379.7,168.1 L380.7,167.4 L381.7,167.2 L382.7,167.4 L383.7,166.6 L384.7,166.8 L385.7,166.4 L386.7,165.4 L387.7,165.5 L388.7,165.4 L389.7,165.5 L390.7,164.6 L391.7,163.8 L392.7,163.6 L393.7,163.3 L394.7,161.9 L395.7,161.4 L396.7,161.8 L397.7,161.5 L398.7,160.1 L399.7,160.2 L400.7,159.6 L401.7,159.0 L402.7,158.2 L403.7,157.1 L404.7,156.7 L405.7,156.8 L406.7,155.2 L407.7,154.9 L408.7,154.8 L409.7,153.7 L410.7,153.1 L411.7,152.1 L412.7,151.2 L413.7,150.8 L414.7,150.0 L415.7,149.1 L416.7,148.7 L417.7,147.8 L418.7,147.0 L419.7,146.3 L420.7,146.2 L421.7,145.3 L422.7,144.1 L423.7,143.0 L424.7,142.2 L425.7,141.2 L426.7,140.4 L427.7,140.1 L428.7,138.9 L429.7,138.4 L430.7,137.6 L431.7,136.3 L432.7,135.1 L433.7,133.9 L434.7,133.2 L435.7,132.5 L436.7,131.9 L437.7,130.5 L438.7,129.6 L439.7,128.8 L440.7,127.2 L441.7,126.5 L442.7,126.2 L443.7,125.1 L444.7,123.8 L445.7,121.8 L446.7,121.2 L447.7,120.5 L448.7,119.3 L449.7,118.6 L450.7,117.1 L451.7,116.2 L452.7,115.5 L453.7,114.4 L454.7,113.0 L455.7,111.8 L456.7,110.9 L457.7,109.8 L458.7,109.1 L459.7,107.5 L460.7,106.2 L461.7,105.8 L462.7,104.9 L463.7,103.2 L464.7,101.4 L465.7,99.9 L466.7,99.0 L467.7,98.4 L468.7,97.0 L469.7,95.1 L470.7,94.1 L471.7,92.7 L472.7,92.1 L473.7,91.3 L474.7,89.6 L475.7,88.4 L476.7,86.7 L477.7,85.5 L478.7,84.6 L479.7,83.3 L480.7,81.7 L481.7,80.6 L482.7,78.7 L483.7,76.5 L484.7,76.1 L485.7,74.8 L486.7,72.5 L487.7,71.8 L488.7,70.9 L489.7,69.4 L490.7,67.5 L491.7,66.1 L492.7,64.9 L493.7,63.6 L494.7,62.4 L495.7,61.1 L496.7,59.8 L497.7,57.9 L498.7,56.5 L499.7,55.1 L500.7,53.6 L501.7,52.0 L502.7,49.9 L503.7,48.8 L504.7,48.0 L505.7,46.3 L506.7,44.5 L507.7,43.1 L508.7,41.2 L509.7,39.3 L510.7,38.1 L511.7,36.8 L512.7,35.1 L513.7,33.8" stroke="#e28a28"/>
</g>
<rect x="421.8" y="123.5" width="100" height="218" fill="#fff"/>
<rect x="441.6" y="134.0" width="7.2" height="7.2" fill="#000000"/>
<text x="0" y="0" class="lg" transform="translate(472.3,143.0) scale(0.9,1)">1.6 K</text>
<rect x="441.6" y="157.0" width="7.2" height="7.2" fill="#f01410"/>
<text x="0" y="0" class="lg" transform="translate(472.3,166.0) scale(0.9,1)">3.8 K</text>
<rect x="441.6" y="180.0" width="7.2" height="7.2" fill="#1010ea"/>
<text x="0" y="0" class="lg" transform="translate(472.3,189.0) scale(0.9,1)">5.5 K</text>
<rect x="441.6" y="203.0" width="7.2" height="7.2" fill="#ea1cea"/>
<text x="0" y="0" class="lg" transform="translate(472.3,212.0) scale(0.9,1)">7.9 K</text>
<rect x="441.6" y="226.0" width="7.2" height="7.2" fill="#107c10"/>
<text x="0" y="0" class="lg" transform="translate(472.3,235.0) scale(0.9,1)">12.0 K</text>
<rect x="441.6" y="249.0" width="7.2" height="7.2" fill="#f08420"/>
<text x="0" y="0" class="lg" transform="translate(472.3,258.0) scale(0.9,1)">19.9 K</text>
<rect x="441.6" y="272.0" width="7.2" height="7.2" fill="#7c107c"/>
<text x="0" y="0" class="lg" transform="translate(472.3,281.0) scale(0.9,1)">30.3 K</text>
<rect x="441.6" y="295.0" width="7.2" height="7.2" fill="#7c7c14"/>
<text x="0" y="0" class="lg" transform="translate(472.3,304.0) scale(0.9,1)">59.4 K</text>
<rect x="441.6" y="318.0" width="7.2" height="7.2" fill="#10f4f4"/>
<text x="0" y="0" class="lg" transform="translate(472.3,327.0) scale(0.9,1)">81 K</text>
<g clip-path="url(#cb)">
<rect x="64.0" y="505.8" width="7" height="7" fill="#000000"/>
<rect x="72.9" y="490.0" width="7" height="7" fill="#000000"/>
<rect x="81.9" y="478.9" width="7" height="7" fill="#000000"/>
<rect x="90.8" y="466.0" width="7" height="7" fill="#000000"/>
<rect x="99.8" y="451.0" width="7" height="7" fill="#000000"/>
<rect x="108.7" y="438.6" width="7" height="7" fill="#000000"/>
<rect x="117.6" y="426.9" width="7" height="7" fill="#000000"/>
<rect x="126.6" y="415.6" width="7" height="7" fill="#000000"/>
<rect x="135.5" y="404.6" width="7" height="7" fill="#000000"/>
<rect x="144.5" y="399.4" width="7" height="7" fill="#000000"/>
<rect x="153.4" y="391.4" width="7" height="7" fill="#000000"/>
<rect x="162.3" y="382.4" width="7" height="7" fill="#000000"/>
<rect x="171.3" y="377.6" width="7" height="7" fill="#000000"/>
<rect x="180.2" y="369.8" width="7" height="7" fill="#000000"/>
<rect x="189.2" y="366.2" width="7" height="7" fill="#000000"/>
<rect x="198.1" y="362.4" width="7" height="7" fill="#000000"/>
<rect x="207.0" y="357.1" width="7" height="7" fill="#000000"/>
<rect x="216.0" y="360.1" width="7" height="7" fill="#000000"/>
<rect x="224.9" y="357.1" width="7" height="7" fill="#000000"/>
<rect x="233.9" y="358.6" width="7" height="7" fill="#000000"/>
<rect x="242.8" y="362.2" width="7" height="7" fill="#000000"/>
<rect x="251.7" y="363.6" width="7" height="7" fill="#000000"/>
<rect x="260.7" y="372.1" width="7" height="7" fill="#000000"/>
<rect x="269.6" y="381.2" width="7" height="7" fill="#000000"/>
<rect x="278.6" y="402.6" width="7" height="7" fill="#000000"/>
<rect x="287.5" y="509.5" width="7" height="7" fill="#000000"/>
<rect x="296.4" y="403.0" width="7" height="7" fill="#000000"/>
<rect x="305.4" y="382.6" width="7" height="7" fill="#000000"/>
<rect x="314.3" y="371.7" width="7" height="7" fill="#000000"/>
<rect x="323.3" y="362.9" width="7" height="7" fill="#000000"/>
<rect x="332.2" y="360.2" width="7" height="7" fill="#000000"/>
<rect x="341.1" y="353.9" width="7" height="7" fill="#000000"/>
<rect x="350.1" y="356.2" width="7" height="7" fill="#000000"/>
<rect x="359.0" y="353.4" width="7" height="7" fill="#000000"/>
<rect x="368.0" y="356.2" width="7" height="7" fill="#000000"/>
<rect x="376.9" y="358.5" width="7" height="7" fill="#000000"/>
<rect x="385.8" y="361.6" width="7" height="7" fill="#000000"/>
<rect x="394.8" y="366.3" width="7" height="7" fill="#000000"/>
<rect x="403.7" y="374.2" width="7" height="7" fill="#000000"/>
<rect x="412.7" y="376.8" width="7" height="7" fill="#000000"/>
<rect x="421.6" y="382.6" width="7" height="7" fill="#000000"/>
<rect x="430.5" y="392.5" width="7" height="7" fill="#000000"/>
<rect x="439.5" y="401.1" width="7" height="7" fill="#000000"/>
<rect x="448.4" y="410.8" width="7" height="7" fill="#000000"/>
<rect x="457.4" y="421.4" width="7" height="7" fill="#000000"/>
<rect x="466.3" y="430.3" width="7" height="7" fill="#000000"/>
<rect x="475.2" y="443.1" width="7" height="7" fill="#000000"/>
<rect x="484.2" y="456.4" width="7" height="7" fill="#000000"/>
<rect x="493.1" y="467.9" width="7" height="7" fill="#000000"/>
<rect x="502.1" y="483.4" width="7" height="7" fill="#000000"/>
<rect x="511.0" y="497.9" width="7" height="7" fill="#000000"/>
<rect x="64.0" y="521.3" width="7" height="7" fill="#f01410"/>
<rect x="72.9" y="507.0" width="7" height="7" fill="#f01410"/>
<rect x="81.9" y="491.2" width="7" height="7" fill="#f01410"/>
<rect x="90.8" y="480.2" width="7" height="7" fill="#f01410"/>
<rect x="99.8" y="467.5" width="7" height="7" fill="#f01410"/>
<rect x="108.7" y="455.7" width="7" height="7" fill="#f01410"/>
<rect x="117.6" y="443.1" width="7" height="7" fill="#f01410"/>
<rect x="126.6" y="432.1" width="7" height="7" fill="#f01410"/>
<rect x="135.5" y="423.7" width="7" height="7" fill="#f01410"/>
<rect x="144.5" y="415.6" width="7" height="7" fill="#f01410"/>
<rect x="153.4" y="408.9" width="7" height="7" fill="#f01410"/>
<rect x="162.3" y="400.4" width="7" height="7" fill="#f01410"/>
<rect x="171.3" y="394.1" width="7" height="7" fill="#f01410"/>
<rect x="180.2" y="388.6" width="7" height="7" fill="#f01410"/>
<rect x="189.2" y="384.7" width="7" height="7" fill="#f01410"/>
<rect x="198.1" y="381.2" width="7" height="7" fill="#f01410"/>
<rect x="207.0" y="377.9" width="7" height="7" fill="#f01410"/>
<rect x="216.0" y="377.9" width="7" height="7" fill="#f01410"/>
<rect x="224.9" y="379.0" width="7" height="7" fill="#f01410"/>
<rect x="233.9" y="380.8" width="7" height="7" fill="#f01410"/>
<rect x="242.8" y="383.6" width="7" height="7" fill="#f01410"/>
<rect x="251.7" y="387.1" width="7" height="7" fill="#f01410"/>
<rect x="260.7" y="392.8" width="7" height="7" fill="#f01410"/>
<rect x="269.6" y="404.3" width="7" height="7" fill="#f01410"/>
<rect x="278.6" y="423.3" width="7" height="7" fill="#f01410"/>
<rect x="287.5" y="509.5" width="7" height="7" fill="#f01410"/>
<rect x="296.4" y="424.0" width="7" height="7" fill="#f01410"/>
<rect x="305.4" y="403.0" width="7" height="7" fill="#f01410"/>
<rect x="314.3" y="391.4" width="7" height="7" fill="#f01410"/>
<rect x="323.3" y="384.6" width="7" height="7" fill="#f01410"/>
<rect x="332.2" y="379.2" width="7" height="7" fill="#f01410"/>
<rect x="341.1" y="376.1" width="7" height="7" fill="#f01410"/>
<rect x="350.1" y="376.1" width="7" height="7" fill="#f01410"/>
<rect x="359.0" y="377.8" width="7" height="7" fill="#f01410"/>
<rect x="368.0" y="376.6" width="7" height="7" fill="#f01410"/>
<rect x="376.9" y="380.1" width="7" height="7" fill="#f01410"/>
<rect x="385.8" y="383.2" width="7" height="7" fill="#f01410"/>
<rect x="394.8" y="387.6" width="7" height="7" fill="#f01410"/>
<rect x="403.7" y="392.5" width="7" height="7" fill="#f01410"/>
<rect x="412.7" y="399.7" width="7" height="7" fill="#f01410"/>
<rect x="421.6" y="407.1" width="7" height="7" fill="#f01410"/>
<rect x="430.5" y="413.2" width="7" height="7" fill="#f01410"/>
<rect x="439.5" y="420.5" width="7" height="7" fill="#f01410"/>
<rect x="448.4" y="429.1" width="7" height="7" fill="#f01410"/>
<rect x="457.4" y="441.4" width="7" height="7" fill="#f01410"/>
<rect x="466.3" y="454.4" width="7" height="7" fill="#f01410"/>
<rect x="475.2" y="464.6" width="7" height="7" fill="#f01410"/>
<rect x="484.2" y="477.3" width="7" height="7" fill="#f01410"/>
<rect x="493.1" y="490.5" width="7" height="7" fill="#f01410"/>
<rect x="502.1" y="503.0" width="7" height="7" fill="#f01410"/>
<rect x="511.0" y="521.4" width="7" height="7" fill="#f01410"/>
<rect x="64.0" y="528.6" width="7" height="7" fill="#1010ea"/>
<rect x="72.9" y="514.8" width="7" height="7" fill="#1010ea"/>
<rect x="81.9" y="499.8" width="7" height="7" fill="#1010ea"/>
<rect x="90.8" y="487.1" width="7" height="7" fill="#1010ea"/>
<rect x="99.8" y="474.3" width="7" height="7" fill="#1010ea"/>
<rect x="108.7" y="461.8" width="7" height="7" fill="#1010ea"/>
<rect x="117.6" y="451.0" width="7" height="7" fill="#1010ea"/>
<rect x="126.6" y="442.1" width="7" height="7" fill="#1010ea"/>
<rect x="135.5" y="430.8" width="7" height="7" fill="#1010ea"/>
<rect x="144.5" y="420.6" width="7" height="7" fill="#1010ea"/>
<rect x="153.4" y="411.7" width="7" height="7" fill="#1010ea"/>
<rect x="162.3" y="406.1" width="7" height="7" fill="#1010ea"/>
<rect x="171.3" y="399.8" width="7" height="7" fill="#1010ea"/>
<rect x="180.2" y="395.0" width="7" height="7" fill="#1010ea"/>
<rect x="189.2" y="391.6" width="7" height="7" fill="#1010ea"/>
<rect x="198.1" y="387.7" width="7" height="7" fill="#1010ea"/>
<rect x="207.0" y="384.7" width="7" height="7" fill="#1010ea"/>
<rect x="216.0" y="383.2" width="7" height="7" fill="#1010ea"/>
<rect x="224.9" y="383.6" width="7" height="7" fill="#1010ea"/>
<rect x="233.9" y="385.9" width="7" height="7" fill="#1010ea"/>
<rect x="242.8" y="390.5" width="7" height="7" fill="#1010ea"/>
<rect x="251.7" y="392.1" width="7" height="7" fill="#1010ea"/>
<rect x="260.7" y="400.9" width="7" height="7" fill="#1010ea"/>
<rect x="269.6" y="411.6" width="7" height="7" fill="#1010ea"/>
<rect x="278.6" y="430.8" width="7" height="7" fill="#1010ea"/>
<rect x="287.5" y="509.5" width="7" height="7" fill="#1010ea"/>
<rect x="296.4" y="433.6" width="7" height="7" fill="#1010ea"/>
<rect x="305.4" y="411.1" width="7" height="7" fill="#1010ea"/>
<rect x="314.3" y="401.6" width="7" height="7" fill="#1010ea"/>
<rect x="323.3" y="393.5" width="7" height="7" fill="#1010ea"/>
<rect x="332.2" y="391.4" width="7" height="7" fill="#1010ea"/>
<rect x="341.1" y="387.0" width="7" height="7" fill="#1010ea"/>
<rect x="350.1" y="387.8" width="7" height="7" fill="#1010ea"/>
<rect x="359.0" y="387.0" width="7" height="7" fill="#1010ea"/>
<rect x="368.0" y="385.4" width="7" height="7" fill="#1010ea"/>
<rect x="376.9" y="387.8" width="7" height="7" fill="#1010ea"/>
<rect x="385.8" y="390.0" width="7" height="7" fill="#1010ea"/>
<rect x="394.8" y="398.1" width="7" height="7" fill="#1010ea"/>
<rect x="403.7" y="401.1" width="7" height="7" fill="#1010ea"/>
<rect x="412.7" y="405.4" width="7" height="7" fill="#1010ea"/>
<rect x="421.6" y="413.2" width="7" height="7" fill="#1010ea"/>
<rect x="430.5" y="421.8" width="7" height="7" fill="#1010ea"/>
<rect x="439.5" y="429.1" width="7" height="7" fill="#1010ea"/>
<rect x="448.4" y="439.6" width="7" height="7" fill="#1010ea"/>
<rect x="457.4" y="449.4" width="7" height="7" fill="#1010ea"/>
<rect x="466.3" y="459.3" width="7" height="7" fill="#1010ea"/>
<rect x="475.2" y="477.6" width="7" height="7" fill="#1010ea"/>
<rect x="484.2" y="484.6" width="7" height="7" fill="#1010ea"/>
<rect x="493.1" y="498.9" width="7" height="7" fill="#1010ea"/>
<rect x="502.1" y="511.1" width="7" height="7" fill="#1010ea"/>
<rect x="511.0" y="526.9" width="7" height="7" fill="#1010ea"/>
<rect x="64.0" y="554.5" width="7" height="7" fill="#ea1cea"/>
<rect x="72.9" y="542.1" width="7" height="7" fill="#ea1cea"/>
<rect x="81.9" y="526.1" width="7" height="7" fill="#ea1cea"/>
<rect x="90.8" y="513.2" width="7" height="7" fill="#ea1cea"/>
<rect x="99.8" y="501.9" width="7" height="7" fill="#ea1cea"/>
<rect x="108.7" y="490.4" width="7" height="7" fill="#ea1cea"/>
<rect x="117.6" y="479.7" width="7" height="7" fill="#ea1cea"/>
<rect x="126.6" y="467.9" width="7" height="7" fill="#ea1cea"/>
<rect x="135.5" y="459.2" width="7" height="7" fill="#ea1cea"/>
<rect x="144.5" y="449.8" width="7" height="7" fill="#ea1cea"/>
<rect x="153.4" y="442.1" width="7" height="7" fill="#ea1cea"/>
<rect x="162.3" y="431.6" width="7" height="7" fill="#ea1cea"/>
<rect x="171.3" y="426.9" width="7" height="7" fill="#ea1cea"/>
<rect x="180.2" y="421.0" width="7" height="7" fill="#ea1cea"/>
<rect x="189.2" y="418.1" width="7" height="7" fill="#ea1cea"/>
<rect x="198.1" y="414.7" width="7" height="7" fill="#ea1cea"/>
<rect x="207.0" y="412.4" width="7" height="7" fill="#ea1cea"/>
<rect x="216.0" y="411.6" width="7" height="7" fill="#ea1cea"/>
<rect x="224.9" y="412.4" width="7" height="7" fill="#ea1cea"/>
<rect x="233.9" y="412.4" width="7" height="7" fill="#ea1cea"/>
<rect x="242.8" y="413.9" width="7" height="7" fill="#ea1cea"/>
<rect x="251.7" y="419.9" width="7" height="7" fill="#ea1cea"/>
<rect x="260.7" y="426.8" width="7" height="7" fill="#ea1cea"/>
<rect x="269.6" y="438.3" width="7" height="7" fill="#ea1cea"/>
<rect x="278.6" y="457.5" width="7" height="7" fill="#ea1cea"/>
<rect x="287.5" y="509.5" width="7" height="7" fill="#ea1cea"/>
<rect x="296.4" y="459.0" width="7" height="7" fill="#ea1cea"/>
<rect x="305.4" y="438.3" width="7" height="7" fill="#ea1cea"/>
<rect x="314.3" y="426.0" width="7" height="7" fill="#ea1cea"/>
<rect x="323.3" y="419.9" width="7" height="7" fill="#ea1cea"/>
<rect x="332.2" y="415.9" width="7" height="7" fill="#ea1cea"/>
<rect x="341.1" y="409.5" width="7" height="7" fill="#ea1cea"/>
<rect x="350.1" y="409.0" width="7" height="7" fill="#ea1cea"/>
<rect x="359.0" y="411.4" width="7" height="7" fill="#ea1cea"/>
<rect x="368.0" y="413.6" width="7" height="7" fill="#ea1cea"/>
<rect x="376.9" y="414.9" width="7" height="7" fill="#ea1cea"/>
<rect x="385.8" y="416.0" width="7" height="7" fill="#ea1cea"/>
<rect x="394.8" y="418.6" width="7" height="7" fill="#ea1cea"/>
<rect x="403.7" y="424.2" width="7" height="7" fill="#ea1cea"/>
<rect x="412.7" y="428.5" width="7" height="7" fill="#ea1cea"/>
<rect x="421.6" y="436.6" width="7" height="7" fill="#ea1cea"/>
<rect x="430.5" y="445.0" width="7" height="7" fill="#ea1cea"/>
<rect x="439.5" y="454.4" width="7" height="7" fill="#ea1cea"/>
<rect x="448.4" y="464.2" width="7" height="7" fill="#ea1cea"/>
<rect x="457.4" y="472.4" width="7" height="7" fill="#ea1cea"/>
<rect x="466.3" y="489.0" width="7" height="7" fill="#ea1cea"/>
<rect x="475.2" y="501.6" width="7" height="7" fill="#ea1cea"/>
<rect x="484.2" y="515.9" width="7" height="7" fill="#ea1cea"/>
<rect x="493.1" y="525.7" width="7" height="7" fill="#ea1cea"/>
<rect x="502.1" y="537.5" width="7" height="7" fill="#ea1cea"/>
<rect x="511.0" y="551.7" width="7" height="7" fill="#ea1cea"/>
<rect x="64.0" y="574.5" width="7" height="7" fill="#107c10"/>
<rect x="72.9" y="559.7" width="7" height="7" fill="#107c10"/>
<rect x="81.9" y="547.4" width="7" height="7" fill="#107c10"/>
<rect x="90.8" y="534.1" width="7" height="7" fill="#107c10"/>
<rect x="99.8" y="520.5" width="7" height="7" fill="#107c10"/>
<rect x="108.7" y="508.8" width="7" height="7" fill="#107c10"/>
<rect x="117.6" y="499.6" width="7" height="7" fill="#107c10"/>
<rect x="126.6" y="488.7" width="7" height="7" fill="#107c10"/>
<rect x="135.5" y="477.3" width="7" height="7" fill="#107c10"/>
<rect x="144.5" y="469.8" width="7" height="7" fill="#107c10"/>
<rect x="153.4" y="463.0" width="7" height="7" fill="#107c10"/>
<rect x="162.3" y="453.6" width="7" height="7" fill="#107c10"/>
<rect x="171.3" y="449.8" width="7" height="7" fill="#107c10"/>
<rect x="180.2" y="442.0" width="7" height="7" fill="#107c10"/>
<rect x="189.2" y="439.0" width="7" height="7" fill="#107c10"/>
<rect x="198.1" y="436.1" width="7" height="7" fill="#107c10"/>
<rect x="207.0" y="433.2" width="7" height="7" fill="#107c10"/>
<rect x="216.0" y="432.7" width="7" height="7" fill="#107c10"/>
<rect x="224.9" y="431.5" width="7" height="7" fill="#107c10"/>
<rect x="233.9" y="432.7" width="7" height="7" fill="#107c10"/>
<rect x="242.8" y="434.7" width="7" height="7" fill="#107c10"/>
<rect x="251.7" y="439.1" width="7" height="7" fill="#107c10"/>
<rect x="260.7" y="446.9" width="7" height="7" fill="#107c10"/>
<rect x="269.6" y="457.8" width="7" height="7" fill="#107c10"/>
<rect x="278.6" y="472.7" width="7" height="7" fill="#107c10"/>
<rect x="287.5" y="509.5" width="7" height="7" fill="#107c10"/>
<rect x="296.4" y="476.9" width="7" height="7" fill="#107c10"/>
<rect x="305.4" y="458.3" width="7" height="7" fill="#107c10"/>
<rect x="314.3" y="445.8" width="7" height="7" fill="#107c10"/>
<rect x="323.3" y="439.0" width="7" height="7" fill="#107c10"/>
<rect x="332.2" y="434.9" width="7" height="7" fill="#107c10"/>
<rect x="341.1" y="432.1" width="7" height="7" fill="#107c10"/>
<rect x="350.1" y="435.6" width="7" height="7" fill="#107c10"/>
<rect x="359.0" y="435.6" width="7" height="7" fill="#107c10"/>
<rect x="368.0" y="437.9" width="7" height="7" fill="#107c10"/>
<rect x="376.9" y="438.6" width="7" height="7" fill="#107c10"/>
<rect x="385.8" y="441.4" width="7" height="7" fill="#107c10"/>
<rect x="394.8" y="443.8" width="7" height="7" fill="#107c10"/>
<rect x="403.7" y="449.4" width="7" height="7" fill="#107c10"/>
<rect x="412.7" y="456.1" width="7" height="7" fill="#107c10"/>
<rect x="421.6" y="462.6" width="7" height="7" fill="#107c10"/>
<rect x="430.5" y="470.7" width="7" height="7" fill="#107c10"/>
<rect x="439.5" y="479.4" width="7" height="7" fill="#107c10"/>
<rect x="448.4" y="488.6" width="7" height="7" fill="#107c10"/>
<rect x="457.4" y="495.9" width="7" height="7" fill="#107c10"/>
<rect x="466.3" y="510.2" width="7" height="7" fill="#107c10"/>
<rect x="475.2" y="520.2" width="7" height="7" fill="#107c10"/>
<rect x="484.2" y="532.1" width="7" height="7" fill="#107c10"/>
<rect x="493.1" y="546.4" width="7" height="7" fill="#107c10"/>
<rect x="502.1" y="560.8" width="7" height="7" fill="#107c10"/>
<rect x="511.0" y="574.4" width="7" height="7" fill="#107c10"/>
<rect x="64.0" y="601.2" width="7" height="7" fill="#f08420"/>
<rect x="72.9" y="586.9" width="7" height="7" fill="#f08420"/>
<rect x="81.9" y="572.6" width="7" height="7" fill="#f08420"/>
<rect x="90.8" y="558.3" width="7" height="7" fill="#f08420"/>
<rect x="99.8" y="547.0" width="7" height="7" fill="#f08420"/>
<rect x="108.7" y="536.5" width="7" height="7" fill="#f08420"/>
<rect x="117.6" y="524.1" width="7" height="7" fill="#f08420"/>
<rect x="126.6" y="512.4" width="7" height="7" fill="#f08420"/>
<rect x="135.5" y="506.7" width="7" height="7" fill="#f08420"/>
<rect x="144.5" y="498.2" width="7" height="7" fill="#f08420"/>
<rect x="153.4" y="489.6" width="7" height="7" fill="#f08420"/>
<rect x="162.3" y="484.0" width="7" height="7" fill="#f08420"/>
<rect x="171.3" y="477.3" width="7" height="7" fill="#f08420"/>
<rect x="180.2" y="471.2" width="7" height="7" fill="#f08420"/>
<rect x="189.2" y="467.1" width="7" height="7" fill="#f08420"/>
<rect x="198.1" y="463.1" width="7" height="7" fill="#f08420"/>
<rect x="207.0" y="460.1" width="7" height="7" fill="#f08420"/>
<rect x="216.0" y="459.8" width="7" height="7" fill="#f08420"/>
<rect x="224.9" y="459.8" width="7" height="7" fill="#f08420"/>
<rect x="233.9" y="460.9" width="7" height="7" fill="#f08420"/>
<rect x="242.8" y="462.1" width="7" height="7" fill="#f08420"/>
<rect x="251.7" y="468.0" width="7" height="7" fill="#f08420"/>
<rect x="260.7" y="472.0" width="7" height="7" fill="#f08420"/>
<rect x="269.6" y="478.8" width="7" height="7" fill="#f08420"/>
<rect x="278.6" y="493.0" width="7" height="7" fill="#f08420"/>
<rect x="287.5" y="509.5" width="7" height="7" fill="#f08420"/>
<rect x="296.4" y="495.4" width="7" height="7" fill="#f08420"/>
<rect x="305.4" y="480.4" width="7" height="7" fill="#f08420"/>
<rect x="314.3" y="470.8" width="7" height="7" fill="#f08420"/>
<rect x="323.3" y="464.7" width="7" height="7" fill="#f08420"/>
<rect x="332.2" y="462.2" width="7" height="7" fill="#f08420"/>
<rect x="341.1" y="461.1" width="7" height="7" fill="#f08420"/>
<rect x="350.1" y="459.6" width="7" height="7" fill="#f08420"/>
<rect x="359.0" y="459.9" width="7" height="7" fill="#f08420"/>
<rect x="368.0" y="461.1" width="7" height="7" fill="#f08420"/>
<rect x="376.9" y="463.4" width="7" height="7" fill="#f08420"/>
<rect x="385.8" y="465.7" width="7" height="7" fill="#f08420"/>
<rect x="394.8" y="468.3" width="7" height="7" fill="#f08420"/>
<rect x="403.7" y="473.2" width="7" height="7" fill="#f08420"/>
<rect x="412.7" y="479.4" width="7" height="7" fill="#f08420"/>
<rect x="421.6" y="487.1" width="7" height="7" fill="#f08420"/>
<rect x="430.5" y="495.9" width="7" height="7" fill="#f08420"/>
<rect x="439.5" y="503.8" width="7" height="7" fill="#f08420"/>
<rect x="448.4" y="511.6" width="7" height="7" fill="#f08420"/>
<rect x="457.4" y="522.9" width="7" height="7" fill="#f08420"/>
<rect x="466.3" y="531.8" width="7" height="7" fill="#f08420"/>
<rect x="475.2" y="544.0" width="7" height="7" fill="#f08420"/>
<rect x="484.2" y="556.4" width="7" height="7" fill="#f08420"/>
<rect x="493.1" y="567.9" width="7" height="7" fill="#f08420"/>
<rect x="502.1" y="582.1" width="7" height="7" fill="#f08420"/>
<rect x="511.0" y="594.4" width="7" height="7" fill="#f08420"/>
<rect x="64.0" y="619.3" width="7" height="7" fill="#7c107c"/>
<rect x="72.9" y="602.8" width="7" height="7" fill="#7c107c"/>
<rect x="81.9" y="590.4" width="7" height="7" fill="#7c107c"/>
<rect x="90.8" y="578.4" width="7" height="7" fill="#7c107c"/>
<rect x="99.8" y="562.7" width="7" height="7" fill="#7c107c"/>
<rect x="108.7" y="551.7" width="7" height="7" fill="#7c107c"/>
<rect x="117.6" y="541.2" width="7" height="7" fill="#7c107c"/>
<rect x="126.6" y="531.1" width="7" height="7" fill="#7c107c"/>
<rect x="135.5" y="522.2" width="7" height="7" fill="#7c107c"/>
<rect x="144.5" y="512.4" width="7" height="7" fill="#7c107c"/>
<rect x="153.4" y="506.7" width="7" height="7" fill="#7c107c"/>
<rect x="162.3" y="498.2" width="7" height="7" fill="#7c107c"/>
<rect x="171.3" y="492.1" width="7" height="7" fill="#7c107c"/>
<rect x="180.2" y="489.8" width="7" height="7" fill="#7c107c"/>
<rect x="189.2" y="484.0" width="7" height="7" fill="#7c107c"/>
<rect x="198.1" y="478.7" width="7" height="7" fill="#7c107c"/>
<rect x="207.0" y="479.4" width="7" height="7" fill="#7c107c"/>
<rect x="216.0" y="479.4" width="7" height="7" fill="#7c107c"/>
<rect x="224.9" y="477.0" width="7" height="7" fill="#7c107c"/>
<rect x="233.9" y="474.7" width="7" height="7" fill="#7c107c"/>
<rect x="242.8" y="478.0" width="7" height="7" fill="#7c107c"/>
<rect x="251.7" y="478.8" width="7" height="7" fill="#7c107c"/>
<rect x="260.7" y="486.3" width="7" height="7" fill="#7c107c"/>
<rect x="269.6" y="491.7" width="7" height="7" fill="#7c107c"/>
<rect x="278.6" y="499.3" width="7" height="7" fill="#7c107c"/>
<rect x="287.5" y="509.5" width="7" height="7" fill="#7c107c"/>
<rect x="296.4" y="500.8" width="7" height="7" fill="#7c107c"/>
<rect x="305.4" y="492.7" width="7" height="7" fill="#7c107c"/>
<rect x="314.3" y="486.9" width="7" height="7" fill="#7c107c"/>
<rect x="323.3" y="482.8" width="7" height="7" fill="#7c107c"/>
<rect x="332.2" y="477.3" width="7" height="7" fill="#7c107c"/>
<rect x="341.1" y="478.0" width="7" height="7" fill="#7c107c"/>
<rect x="350.1" y="476.6" width="7" height="7" fill="#7c107c"/>
<rect x="359.0" y="475.1" width="7" height="7" fill="#7c107c"/>
<rect x="368.0" y="475.1" width="7" height="7" fill="#7c107c"/>
<rect x="376.9" y="478.9" width="7" height="7" fill="#7c107c"/>
<rect x="385.8" y="485.4" width="7" height="7" fill="#7c107c"/>
<rect x="394.8" y="488.6" width="7" height="7" fill="#7c107c"/>
<rect x="403.7" y="489.6" width="7" height="7" fill="#7c107c"/>
<rect x="412.7" y="496.4" width="7" height="7" fill="#7c107c"/>
<rect x="421.6" y="503.8" width="7" height="7" fill="#7c107c"/>
<rect x="430.5" y="510.6" width="7" height="7" fill="#7c107c"/>
<rect x="439.5" y="517.1" width="7" height="7" fill="#7c107c"/>
<rect x="448.4" y="528.2" width="7" height="7" fill="#7c107c"/>
<rect x="457.4" y="539.9" width="7" height="7" fill="#7c107c"/>
<rect x="466.3" y="548.9" width="7" height="7" fill="#7c107c"/>
<rect x="475.2" y="558.9" width="7" height="7" fill="#7c107c"/>
<rect x="484.2" y="571.0" width="7" height="7" fill="#7c107c"/>
<rect x="493.1" y="582.1" width="7" height="7" fill="#7c107c"/>
<rect x="502.1" y="598.8" width="7" height="7" fill="#7c107c"/>
<rect x="511.0" y="610.2" width="7" height="7" fill="#7c107c"/>
<rect x="64.0" y="638.3" width="7" height="7" fill="#7c7c14"/>
<rect x="72.9" y="623.6" width="7" height="7" fill="#7c7c14"/>
<rect x="81.9" y="612.2" width="7" height="7" fill="#7c7c14"/>
<rect x="90.8" y="600.2" width="7" height="7" fill="#7c7c14"/>
<rect x="99.8" y="588.2" width="7" height="7" fill="#7c7c14"/>
<rect x="108.7" y="576.4" width="7" height="7" fill="#7c7c14"/>
<rect x="117.6" y="566.4" width="7" height="7" fill="#7c7c14"/>
<rect x="126.6" y="554.5" width="7" height="7" fill="#7c7c14"/>
<rect x="135.5" y="547.4" width="7" height="7" fill="#7c7c14"/>
<rect x="144.5" y="541.2" width="7" height="7" fill="#7c7c14"/>
<rect x="153.4" y="532.6" width="7" height="7" fill="#7c7c14"/>
<rect x="162.3" y="526.9" width="7" height="7" fill="#7c7c14"/>
<rect x="171.3" y="519.0" width="7" height="7" fill="#7c7c14"/>
<rect x="180.2" y="511.6" width="7" height="7" fill="#7c7c14"/>
<rect x="189.2" y="507.0" width="7" height="7" fill="#7c7c14"/>
<rect x="198.1" y="504.7" width="7" height="7" fill="#7c7c14"/>
<rect x="207.0" y="500.2" width="7" height="7" fill="#7c7c14"/>
<rect x="216.0" y="499.4" width="7" height="7" fill="#7c7c14"/>
<rect x="224.9" y="497.8" width="7" height="7" fill="#7c7c14"/>
<rect x="233.9" y="496.6" width="7" height="7" fill="#7c7c14"/>
<rect x="242.8" y="496.0" width="7" height="7" fill="#7c7c14"/>
<rect x="251.7" y="499.9" width="7" height="7" fill="#7c7c14"/>
<rect x="260.7" y="498.5" width="7" height="7" fill="#7c7c14"/>
<rect x="269.6" y="506.0" width="7" height="7" fill="#7c7c14"/>
<rect x="278.6" y="505.3" width="7" height="7" fill="#7c7c14"/>
<rect x="287.5" y="509.5" width="7" height="7" fill="#7c7c14"/>
<rect x="296.4" y="506.8" width="7" height="7" fill="#7c7c14"/>
<rect x="305.4" y="505.9" width="7" height="7" fill="#7c7c14"/>
<rect x="314.3" y="498.8" width="7" height="7" fill="#7c7c14"/>
<rect x="323.3" y="498.1" width="7" height="7" fill="#7c7c14"/>
<rect x="332.2" y="499.3" width="7" height="7" fill="#7c7c14"/>
<rect x="341.1" y="499.7" width="7" height="7" fill="#7c7c14"/>
<rect x="350.1" y="501.1" width="7" height="7" fill="#7c7c14"/>
<rect x="359.0" y="502.1" width="7" height="7" fill="#7c7c14"/>
<rect x="368.0" y="504.4" width="7" height="7" fill="#7c7c14"/>
<rect x="376.9" y="506.2" width="7" height="7" fill="#7c7c14"/>
<rect x="385.8" y="509.7" width="7" height="7" fill="#7c7c14"/>
<rect x="394.8" y="513.1" width="7" height="7" fill="#7c7c14"/>
<rect x="403.7" y="517.9" width="7" height="7" fill="#7c7c14"/>
<rect x="412.7" y="523.3" width="7" height="7" fill="#7c7c14"/>
<rect x="421.6" y="531.9" width="7" height="7" fill="#7c7c14"/>
<rect x="430.5" y="539.2" width="7" height="7" fill="#7c7c14"/>
<rect x="439.5" y="546.6" width="7" height="7" fill="#7c7c14"/>
<rect x="448.4" y="554.6" width="7" height="7" fill="#7c7c14"/>
<rect x="457.4" y="565.3" width="7" height="7" fill="#7c7c14"/>
<rect x="466.3" y="575.4" width="7" height="7" fill="#7c7c14"/>
<rect x="475.2" y="588.1" width="7" height="7" fill="#7c7c14"/>
<rect x="484.2" y="599.5" width="7" height="7" fill="#7c7c14"/>
<rect x="493.1" y="610.9" width="7" height="7" fill="#7c7c14"/>
<rect x="502.1" y="625.8" width="7" height="7" fill="#7c7c14"/>
<rect x="511.0" y="638.1" width="7" height="7" fill="#7c7c14"/>
<rect x="65.5" y="656.8" width="7" height="7" fill="#10f4f4"/>
<rect x="74.4" y="642.1" width="7" height="7" fill="#10f4f4"/>
<rect x="83.4" y="627.9" width="7" height="7" fill="#10f4f4"/>
<rect x="92.3" y="614.6" width="7" height="7" fill="#10f4f4"/>
<rect x="101.3" y="602.1" width="7" height="7" fill="#10f4f4"/>
<rect x="110.2" y="591.3" width="7" height="7" fill="#10f4f4"/>
<rect x="119.1" y="580.1" width="7" height="7" fill="#10f4f4"/>
<rect x="128.1" y="569.7" width="7" height="7" fill="#10f4f4"/>
<rect x="137.0" y="562.0" width="7" height="7" fill="#10f4f4"/>
<rect x="146.0" y="555.1" width="7" height="7" fill="#10f4f4"/>
<rect x="154.9" y="545.0" width="7" height="7" fill="#10f4f4"/>
<rect x="162.3" y="539.3" width="7" height="7" fill="#10f4f4"/>
<rect x="171.3" y="529.8" width="7" height="7" fill="#10f4f4"/>
<rect x="180.2" y="523.1" width="7" height="7" fill="#10f4f4"/>
<rect x="189.2" y="519.8" width="7" height="7" fill="#10f4f4"/>
<rect x="198.1" y="512.9" width="7" height="7" fill="#10f4f4"/>
<rect x="207.0" y="510.5" width="7" height="7" fill="#10f4f4"/>
<rect x="216.0" y="509.3" width="7" height="7" fill="#10f4f4"/>
<rect x="224.9" y="505.9" width="7" height="7" fill="#10f4f4"/>
<rect x="233.9" y="504.7" width="7" height="7" fill="#10f4f4"/>
<rect x="242.8" y="502.2" width="7" height="7" fill="#10f4f4"/>
<rect x="251.7" y="500.5" width="7" height="7" fill="#10f4f4"/>
<rect x="260.7" y="501.2" width="7" height="7" fill="#10f4f4"/>
<rect x="269.6" y="503.3" width="7" height="7" fill="#10f4f4"/>
<rect x="278.6" y="505.3" width="7" height="7" fill="#10f4f4"/>
<rect x="287.5" y="509.5" width="7" height="7" fill="#10f4f4"/>
<rect x="296.4" y="506.7" width="7" height="7" fill="#10f4f4"/>
<rect x="305.4" y="505.3" width="7" height="7" fill="#10f4f4"/>
<rect x="314.3" y="504.9" width="7" height="7" fill="#10f4f4"/>
<rect x="323.3" y="502.2" width="7" height="7" fill="#10f4f4"/>
<rect x="332.2" y="506.2" width="7" height="7" fill="#10f4f4"/>
<rect x="341.1" y="506.2" width="7" height="7" fill="#10f4f4"/>
<rect x="350.1" y="506.7" width="7" height="7" fill="#10f4f4"/>
<rect x="359.0" y="509.7" width="7" height="7" fill="#10f4f4"/>
<rect x="368.0" y="513.2" width="7" height="7" fill="#10f4f4"/>
<rect x="376.9" y="516.7" width="7" height="7" fill="#10f4f4"/>
<rect x="385.8" y="518.5" width="7" height="7" fill="#10f4f4"/>
<rect x="394.8" y="523.3" width="7" height="7" fill="#10f4f4"/>
<rect x="403.7" y="530.2" width="7" height="7" fill="#10f4f4"/>
<rect x="412.7" y="533.6" width="7" height="7" fill="#10f4f4"/>
<rect x="421.6" y="544.1" width="7" height="7" fill="#10f4f4"/>
<rect x="430.5" y="552.1" width="7" height="7" fill="#10f4f4"/>
<rect x="439.5" y="561.8" width="7" height="7" fill="#10f4f4"/>
<rect x="448.4" y="569.4" width="7" height="7" fill="#10f4f4"/>
<rect x="457.4" y="578.2" width="7" height="7" fill="#10f4f4"/>
<rect x="466.3" y="589.4" width="7" height="7" fill="#10f4f4"/>
<rect x="475.2" y="598.8" width="7" height="7" fill="#10f4f4"/>
<rect x="484.2" y="613.5" width="7" height="7" fill="#10f4f4"/>
<rect x="493.1" y="624.2" width="7" height="7" fill="#10f4f4"/>
<rect x="502.1" y="638.1" width="7" height="7" fill="#10f4f4"/>
<rect x="511.0" y="651.4" width="7" height="7" fill="#10f4f4"/>
</g>
<g clip-path="url(#cb)" fill="none" stroke="#707070" stroke-width="1.5" stroke-linejoin="round">
<path d="M67.5,509.4 L69.3,506.4 L71.1,503.4 L72.9,500.4 L74.7,497.4 L76.5,494.5 L78.3,491.6 L80.1,488.7 L81.9,485.8 L83.7,483.0 L85.5,480.2 L87.3,477.5 L89.1,474.7 L90.9,472.0 L92.7,469.4 L94.5,466.7 L96.3,464.1 L98.2,461.5 L100.0,459.0 L101.8,456.5 L103.6,454.0 L105.4,451.5 L107.2,449.1 L109.0,446.7 L110.8,444.3 L112.6,441.9 L114.4,439.6 L116.2,437.3 L118.0,435.1 L119.8,432.9 L121.6,430.7 L123.4,428.5 L125.2,426.4 L127.0,424.3 L128.8,422.2 L130.6,420.2 L132.4,418.2 L134.2,416.2 L136.0,414.2 L137.8,412.3 L139.6,410.4 L141.4,408.6 L143.2,406.8 L145.0,405.0 L146.8,403.2 L148.6,401.5 L150.4,399.8 L152.2,398.1 L154.0,396.5 L155.8,394.9 L157.7,393.4 L159.5,391.8 L161.3,390.3 L163.1,388.9 L164.9,387.4 L166.7,386.0 L168.5,384.7 L170.3,383.3 L172.1,382.0 L173.9,380.8 L175.7,379.5 L177.5,378.3 L179.3,377.2 L181.1,376.1 L182.9,375.0 L184.7,373.9 L186.5,372.9 L188.3,371.9 L190.1,371.0 L191.9,370.1 L193.7,369.2 L195.5,368.4 L197.3,367.6 L199.1,366.8 L200.9,366.1 L202.7,365.4 L204.5,364.8 L206.3,364.2 L208.1,363.7 L209.9,363.1 L211.7,362.7 L213.5,362.3 L215.3,361.9 L217.2,361.5 L219.0,361.3 L220.8,361.0 L222.6,360.8 L224.4,360.7 L226.2,360.6 L228.0,360.5 L229.8,360.5 L231.6,360.6 L233.4,360.7 L235.2,360.9 L237.0,361.1 L238.8,361.4 L240.6,361.8 L242.4,362.3 L244.2,362.8 L246.0,363.3 L247.8,364.0 L249.6,364.7 L251.4,365.6 L253.2,366.5 L255.0,367.5 L256.8,368.6 L258.6,369.9 L260.4,371.2 L262.2,372.8 L264.0,374.4 L265.8,376.2 L267.6,378.3 L269.4,380.5 L271.2,383.0 L273.0,385.8 L274.8,388.9 L276.7,392.4 L278.5,396.5 L280.3,401.2 L282.1,406.9 L282.2,407.5 L282.4,408.1 L282.6,408.7 L282.7,409.3 L282.9,410.0 L283.1,410.6 L283.3,411.3 L283.4,412.0 L283.6,412.7 L283.8,413.4 L283.9,414.2 L284.1,414.9 L284.3,415.7 L284.5,416.5 L284.6,417.3 L284.8,418.2 L285.0,419.0 L285.1,419.9 L285.3,420.8 L285.5,421.8 L285.7,422.8 L285.8,423.8 L286.0,424.8 L286.2,425.9 L286.3,427.0 L286.5,428.1 L286.7,429.3 L286.9,430.5 L287.0,431.8 L287.2,433.2 L287.4,434.6 L287.5,436.0 L287.7,437.6 L287.9,439.2 L288.1,440.9 L288.2,442.7 L288.4,444.5 L288.6,446.6 L288.7,448.7 L288.9,451.0 L289.1,453.5 L289.3,456.2 L289.4,459.1 L289.6,462.3 L289.8,465.8 L289.9,469.8 L290.1,474.4 L290.3,479.7 L290.5,485.9 L291.0,506.8 L291.5,487.9 L291.7,481.7 L291.9,476.4 L292.1,471.9 L292.2,467.8 L292.4,464.2 L292.6,461.0 L292.7,458.0 L292.9,455.3 L293.1,452.8 L293.3,450.5 L293.4,448.3 L293.6,446.2 L293.8,444.3 L293.9,442.5 L294.1,440.7 L294.3,439.1 L294.5,437.5 L294.6,436.0 L294.8,434.6 L295.0,433.2 L295.1,431.9 L295.3,430.6 L295.5,429.4 L295.7,428.2 L295.8,427.1 L296.0,426.0 L296.2,424.9 L296.3,423.9 L296.5,422.9 L296.7,421.9 L296.9,421.0 L297.0,420.1 L297.2,419.2 L297.4,418.3 L297.5,417.5 L297.7,416.7 L297.9,415.9 L298.1,415.1 L298.2,414.3 L298.4,413.6 L298.6,412.8 L298.7,412.1 L298.9,411.4 L299.1,410.8 L299.3,410.1 L299.4,409.4 L299.6,408.8 L299.8,408.2 L299.9,407.6 L301.7,401.7 L303.5,396.8 L305.3,392.6 L307.2,389.0 L309.0,385.8 L310.8,382.9 L312.6,380.3 L314.4,378.0 L316.2,375.9 L318.0,374.0 L319.8,372.3 L321.6,370.7 L323.4,369.3 L325.2,368.0 L327.0,366.8 L328.8,365.7 L330.6,364.7 L332.4,363.8 L334.2,363.1 L336.0,362.4 L337.8,361.7 L339.6,361.2 L341.4,360.7 L343.2,360.3 L345.0,359.9 L346.8,359.7 L348.6,359.4 L350.4,359.3 L352.2,359.2 L354.0,359.1 L355.8,359.1 L357.6,359.2 L359.4,359.3 L361.2,359.5 L363.0,359.7 L364.8,359.9 L366.7,360.2 L368.5,360.6 L370.3,360.9 L372.1,361.4 L373.9,361.9 L375.7,362.4 L377.5,362.9 L379.3,363.5 L381.1,364.2 L382.9,364.9 L384.7,365.6 L386.5,366.3 L388.3,367.1 L390.1,368.0 L391.9,368.8 L393.7,369.8 L395.5,370.7 L397.3,371.7 L399.1,372.7 L400.9,373.8 L402.7,374.9 L404.5,376.0 L406.3,377.1 L408.1,378.3 L409.9,379.6 L411.7,380.8 L413.5,382.1 L415.3,383.5 L417.1,384.8 L418.9,386.2 L420.7,387.7 L422.5,389.1 L424.3,390.6 L426.2,392.2 L428.0,393.7 L429.8,395.3 L431.6,396.9 L433.4,398.6 L435.2,400.3 L437.0,402.0 L438.8,403.8 L440.6,405.6 L442.4,407.4 L444.2,409.2 L446.0,411.1 L447.8,413.0 L449.6,415.0 L451.4,416.9 L453.2,419.0 L455.0,421.0 L456.8,423.1 L458.6,425.2 L460.4,427.3 L462.2,429.4 L464.0,431.6 L465.8,433.8 L467.6,436.1 L469.4,438.4 L471.2,440.7 L473.0,443.0 L474.8,445.4 L476.6,447.8 L478.4,450.2 L480.2,452.7 L482.0,455.2 L483.8,457.7 L485.7,460.2 L487.5,462.8 L489.3,465.4 L491.1,468.0 L492.9,470.7 L494.7,473.4 L496.5,476.1 L498.3,478.9 L500.1,481.6 L501.9,484.4 L503.7,487.3 L505.5,490.1 L507.3,493.0 L509.1,496.0 L510.9,498.9 L512.7,501.9 L514.5,504.9"/>
<path d="M67.5,523.8 L69.3,520.8 L71.1,517.9 L72.9,515.0 L74.7,512.1 L76.5,509.2 L78.3,506.4 L80.1,503.6 L81.9,500.8 L83.7,498.1 L85.5,495.4 L87.3,492.7 L89.1,490.0 L90.9,487.4 L92.7,484.8 L94.5,482.3 L96.3,479.7 L98.2,477.2 L100.0,474.7 L101.8,472.3 L103.6,469.9 L105.4,467.5 L107.2,465.1 L109.0,462.8 L110.8,460.5 L112.6,458.2 L114.4,456.0 L116.2,453.7 L118.0,451.6 L119.8,449.4 L121.6,447.3 L123.4,445.2 L125.2,443.1 L127.0,441.1 L128.8,439.1 L130.6,437.1 L132.4,435.2 L134.2,433.3 L136.0,431.4 L137.8,429.5 L139.6,427.7 L141.4,425.9 L143.2,424.2 L145.0,422.5 L146.8,420.8 L148.6,419.1 L150.4,417.5 L152.2,415.9 L154.0,414.3 L155.8,412.8 L157.7,411.3 L159.5,409.8 L161.3,408.4 L163.1,407.0 L164.9,405.6 L166.7,404.3 L168.5,403.0 L170.3,401.7 L172.1,400.4 L173.9,399.2 L175.7,398.1 L177.5,396.9 L179.3,395.8 L181.1,394.8 L182.9,393.7 L184.7,392.7 L186.5,391.8 L188.3,390.9 L190.1,390.0 L191.9,389.1 L193.7,388.3 L195.5,387.5 L197.3,386.8 L199.1,386.1 L200.9,385.5 L202.7,384.8 L204.5,384.3 L206.3,383.7 L208.1,383.2 L209.9,382.8 L211.7,382.4 L213.5,382.0 L215.3,381.7 L217.2,381.4 L219.0,381.2 L220.8,381.0 L222.6,380.9 L224.4,380.8 L226.2,380.7 L228.0,380.8 L229.8,380.8 L231.6,381.0 L233.4,381.1 L235.2,381.4 L237.0,381.7 L238.8,382.0 L240.6,382.5 L242.4,383.0 L244.2,383.6 L246.0,384.2 L247.8,384.9 L249.6,385.7 L251.4,386.6 L253.2,387.6 L255.0,388.7 L256.8,389.9 L258.6,391.3 L260.4,392.7 L262.2,394.3 L264.0,396.1 L265.8,398.0 L267.6,400.1 L269.4,402.4 L271.2,405.0 L273.0,407.9 L274.8,411.1 L276.7,414.8 L278.5,418.9 L280.3,423.8 L282.1,429.5 L282.2,430.1 L282.4,430.8 L282.6,431.4 L282.7,432.0 L282.9,432.7 L283.1,433.4 L283.3,434.0 L283.4,434.7 L283.6,435.4 L283.8,436.2 L283.9,436.9 L284.1,437.7 L284.3,438.5 L284.5,439.3 L284.6,440.1 L284.8,440.9 L285.0,441.8 L285.1,442.7 L285.3,443.6 L285.5,444.5 L285.7,445.5 L285.8,446.5 L286.0,447.5 L286.2,448.5 L286.3,449.6 L286.5,450.8 L286.7,451.9 L286.9,453.1 L287.0,454.4 L287.2,455.7 L287.4,457.0 L287.5,458.4 L287.7,459.9 L287.9,461.4 L288.1,463.0 L288.2,464.7 L288.4,466.5 L288.6,468.4 L288.7,470.4 L288.9,472.5 L289.1,474.7 L289.3,477.1 L289.4,479.6 L289.6,482.4 L289.8,485.4 L289.9,488.7 L290.1,492.3 L290.3,496.2 L290.5,500.5 L291.0,506.8 L291.5,500.6 L291.7,496.3 L291.9,492.3 L292.1,488.7 L292.2,485.5 L292.4,482.4 L292.6,479.7 L292.7,477.1 L292.9,474.7 L293.1,472.4 L293.3,470.3 L293.4,468.3 L293.6,466.4 L293.8,464.6 L293.9,462.9 L294.1,461.3 L294.3,459.8 L294.5,458.3 L294.6,456.9 L294.8,455.5 L295.0,454.2 L295.1,452.9 L295.3,451.7 L295.5,450.5 L295.7,449.4 L295.8,448.3 L296.0,447.2 L296.2,446.2 L296.3,445.2 L296.5,444.2 L296.7,443.3 L296.9,442.4 L297.0,441.5 L297.2,440.6 L297.4,439.8 L297.5,438.9 L297.7,438.1 L297.9,437.3 L298.1,436.6 L298.2,435.8 L298.4,435.1 L298.6,434.4 L298.7,433.7 L298.9,433.0 L299.1,432.3 L299.3,431.6 L299.4,431.0 L299.6,430.4 L299.8,429.7 L299.9,429.1 L301.7,423.3 L303.5,418.4 L305.3,414.2 L307.2,410.5 L309.0,407.2 L310.8,404.3 L312.6,401.7 L314.4,399.3 L316.2,397.2 L318.0,395.3 L319.8,393.5 L321.6,391.9 L323.4,390.4 L325.2,389.1 L327.0,387.9 L328.8,386.7 L330.6,385.7 L332.4,384.8 L334.2,384.0 L336.0,383.3 L337.8,382.6 L339.6,382.0 L341.4,381.5 L343.2,381.1 L345.0,380.7 L346.8,380.4 L348.6,380.1 L350.4,379.9 L352.2,379.8 L354.0,379.7 L355.8,379.7 L357.6,379.7 L359.4,379.8 L361.2,379.9 L363.0,380.1 L364.8,380.4 L366.7,380.6 L368.5,380.9 L370.3,381.3 L372.1,381.7 L373.9,382.2 L375.7,382.7 L377.5,383.2 L379.3,383.8 L381.1,384.4 L382.9,385.0 L384.7,385.7 L386.5,386.5 L388.3,387.2 L390.1,388.1 L391.9,388.9 L393.7,389.8 L395.5,390.7 L397.3,391.7 L399.1,392.7 L400.9,393.7 L402.7,394.8 L404.5,395.9 L406.3,397.0 L408.1,398.2 L409.9,399.4 L411.7,400.6 L413.5,401.9 L415.3,403.2 L417.1,404.6 L418.9,405.9 L420.7,407.3 L422.5,408.8 L424.3,410.3 L426.2,411.8 L428.0,413.3 L429.8,414.9 L431.6,416.5 L433.4,418.1 L435.2,419.8 L437.0,421.5 L438.8,423.2 L440.6,425.0 L442.4,426.8 L444.2,428.6 L446.0,430.5 L447.8,432.3 L449.6,434.3 L451.4,436.2 L453.2,438.2 L455.0,440.2 L456.8,442.2 L458.6,444.3 L460.4,446.4 L462.2,448.5 L464.0,450.7 L465.8,452.9 L467.6,455.1 L469.4,457.4 L471.2,459.7 L473.0,462.0 L474.8,464.3 L476.6,466.7 L478.4,469.1 L480.2,471.5 L482.0,474.0 L483.8,476.5 L485.7,479.0 L487.5,481.5 L489.3,484.1 L491.1,486.7 L492.9,489.3 L494.7,492.0 L496.5,494.7 L498.3,497.4 L500.1,500.2 L501.9,503.0 L503.7,505.8 L505.5,508.6 L507.3,511.5 L509.1,514.4 L510.9,517.3 L512.7,520.3 L514.5,523.2"/>
<path d="M67.5,532.0 L69.3,528.9 L71.1,525.9 L72.9,523.0 L74.7,520.0 L76.5,517.1 L78.3,514.2 L80.1,511.4 L81.9,508.6 L83.7,505.8 L85.5,503.0 L87.3,500.3 L89.1,497.6 L90.9,494.9 L92.7,492.2 L94.5,489.6 L96.3,487.0 L98.2,484.5 L100.0,482.0 L101.8,479.5 L103.6,477.0 L105.4,474.6 L107.2,472.2 L109.0,469.8 L110.8,467.4 L112.6,465.1 L114.4,462.8 L116.2,460.6 L118.0,458.4 L119.8,456.2 L121.6,454.0 L123.4,451.9 L125.2,449.8 L127.0,447.7 L128.8,445.7 L130.6,443.7 L132.4,441.7 L134.2,439.7 L136.0,437.8 L137.8,435.9 L139.6,434.1 L141.4,432.3 L143.2,430.5 L145.0,428.7 L146.8,427.0 L148.6,425.3 L150.4,423.7 L152.2,422.0 L154.0,420.4 L155.8,418.9 L157.7,417.4 L159.5,415.9 L161.3,414.4 L163.1,413.0 L164.9,411.6 L166.7,410.2 L168.5,408.9 L170.3,407.6 L172.1,406.4 L173.9,405.1 L175.7,404.0 L177.5,402.8 L179.3,401.7 L181.1,400.6 L182.9,399.6 L184.7,398.6 L186.5,397.6 L188.3,396.7 L190.1,395.8 L191.9,394.9 L193.7,394.1 L195.5,393.3 L197.3,392.6 L199.1,391.9 L200.9,391.2 L202.7,390.6 L204.5,390.0 L206.3,389.5 L208.1,389.0 L209.9,388.6 L211.7,388.2 L213.5,387.8 L215.3,387.5 L217.2,387.2 L219.0,387.0 L220.8,386.8 L222.6,386.7 L224.4,386.6 L226.2,386.6 L228.0,386.7 L229.8,386.7 L231.6,386.9 L233.4,387.1 L235.2,387.4 L237.0,387.7 L238.8,388.1 L240.6,388.5 L242.4,389.1 L244.2,389.7 L246.0,390.4 L247.8,391.1 L249.6,392.0 L251.4,392.9 L253.2,394.0 L255.0,395.1 L256.8,396.4 L258.6,397.8 L260.4,399.3 L262.2,400.9 L264.0,402.7 L265.8,404.7 L267.6,406.9 L269.4,409.3 L271.2,412.0 L273.0,415.0 L274.8,418.3 L276.7,422.1 L278.5,426.3 L280.3,431.3 L282.1,437.2 L282.2,437.8 L282.4,438.4 L282.6,439.1 L282.7,439.7 L282.9,440.4 L283.1,441.0 L283.3,441.7 L283.4,442.4 L283.6,443.2 L283.8,443.9 L283.9,444.7 L284.1,445.4 L284.3,446.2 L284.5,447.0 L284.6,447.9 L284.8,448.7 L285.0,449.6 L285.1,450.5 L285.3,451.4 L285.5,452.3 L285.7,453.3 L285.8,454.3 L286.0,455.3 L286.2,456.3 L286.3,457.4 L286.5,458.6 L286.7,459.7 L286.9,460.9 L287.0,462.1 L287.2,463.4 L287.4,464.8 L287.5,466.1 L287.7,467.6 L287.9,469.1 L288.1,470.6 L288.2,472.3 L288.4,474.0 L288.6,475.8 L288.7,477.7 L288.9,479.7 L289.1,481.8 L289.3,484.0 L289.4,486.4 L289.6,488.9 L289.8,491.6 L289.9,494.5 L290.1,497.6 L290.3,500.9 L290.5,504.4 L291.0,506.8 L291.5,504.7 L291.7,501.2 L291.9,498.0 L292.1,494.9 L292.2,492.1 L292.4,489.4 L292.6,486.9 L292.7,484.5 L292.9,482.3 L293.1,480.2 L293.3,478.2 L293.4,476.4 L293.6,474.6 L293.8,472.9 L293.9,471.2 L294.1,469.7 L294.3,468.2 L294.5,466.8 L294.6,465.4 L294.8,464.1 L295.0,462.8 L295.1,461.6 L295.3,460.4 L295.5,459.2 L295.7,458.1 L295.8,457.0 L296.0,456.0 L296.2,455.0 L296.3,454.0 L296.5,453.0 L296.7,452.1 L296.9,451.2 L297.0,450.3 L297.2,449.4 L297.4,448.6 L297.5,447.7 L297.7,446.9 L297.9,446.1 L298.1,445.4 L298.2,444.6 L298.4,443.9 L298.6,443.2 L298.7,442.5 L298.9,441.8 L299.1,441.1 L299.3,440.4 L299.4,439.8 L299.6,439.1 L299.8,438.5 L299.9,437.9 L301.7,432.0 L303.5,427.1 L305.3,422.8 L307.2,419.1 L309.0,415.7 L310.8,412.8 L312.6,410.1 L314.4,407.7 L316.2,405.5 L318.0,403.5 L319.8,401.7 L321.6,400.0 L323.4,398.5 L325.2,397.1 L327.0,395.9 L328.8,394.7 L330.6,393.7 L332.4,392.7 L334.2,391.9 L336.0,391.1 L337.8,390.4 L339.6,389.8 L341.4,389.3 L343.2,388.8 L345.0,388.4 L346.8,388.1 L348.6,387.8 L350.4,387.6 L352.2,387.4 L354.0,387.3 L355.8,387.3 L357.6,387.3 L359.4,387.3 L361.2,387.5 L363.0,387.6 L364.8,387.8 L366.7,388.1 L368.5,388.4 L370.3,388.7 L372.1,389.1 L373.9,389.6 L375.7,390.1 L377.5,390.6 L379.3,391.1 L381.1,391.8 L382.9,392.4 L384.7,393.1 L386.5,393.8 L388.3,394.6 L390.1,395.4 L391.9,396.2 L393.7,397.1 L395.5,398.0 L397.3,399.0 L399.1,400.0 L400.9,401.0 L402.7,402.1 L404.5,403.2 L406.3,404.3 L408.1,405.5 L409.9,406.7 L411.7,407.9 L413.5,409.2 L415.3,410.5 L417.1,411.8 L418.9,413.2 L420.7,414.6 L422.5,416.1 L424.3,417.5 L426.2,419.0 L428.0,420.6 L429.8,422.2 L431.6,423.8 L433.4,425.4 L435.2,427.1 L437.0,428.8 L438.8,430.5 L440.6,432.3 L442.4,434.1 L444.2,435.9 L446.0,437.8 L447.8,439.7 L449.6,441.6 L451.4,443.5 L453.2,445.5 L455.0,447.5 L456.8,449.6 L458.6,451.7 L460.4,453.8 L462.2,455.9 L464.0,458.1 L465.8,460.3 L467.6,462.5 L469.4,464.8 L471.2,467.1 L473.0,469.4 L474.8,471.7 L476.6,474.1 L478.4,476.5 L480.2,479.0 L482.0,481.4 L483.8,484.0 L485.7,486.5 L487.5,489.0 L489.3,491.6 L491.1,494.3 L492.9,496.9 L494.7,499.6 L496.5,502.3 L498.3,505.0 L500.1,507.8 L501.9,510.6 L503.7,513.4 L505.5,516.3 L507.3,519.1 L509.1,522.1 L510.9,525.0 L512.7,528.0 L514.5,531.0"/>
<path d="M67.5,559.1 L69.3,556.1 L71.1,553.1 L72.9,550.1 L74.7,547.2 L76.5,544.3 L78.3,541.4 L80.1,538.6 L81.9,535.7 L83.7,532.9 L85.5,530.2 L87.3,527.4 L89.1,524.7 L90.9,522.1 L92.7,519.4 L94.5,516.8 L96.3,514.2 L98.2,511.7 L100.0,509.1 L101.8,506.7 L103.6,504.2 L105.4,501.8 L107.2,499.4 L109.0,497.0 L110.8,494.6 L112.6,492.3 L114.4,490.0 L116.2,487.8 L118.0,485.6 L119.8,483.4 L121.6,481.2 L123.4,479.1 L125.2,477.0 L127.0,474.9 L128.8,472.9 L130.6,470.9 L132.4,468.9 L134.2,467.0 L136.0,465.1 L137.8,463.2 L139.6,461.3 L141.4,459.5 L143.2,457.7 L145.0,456.0 L146.8,454.3 L148.6,452.6 L150.4,450.9 L152.2,449.3 L154.0,447.7 L155.8,446.2 L157.7,444.6 L159.5,443.1 L161.3,441.7 L163.1,440.3 L164.9,438.9 L166.7,437.5 L168.5,436.2 L170.3,434.9 L172.1,433.7 L173.9,432.4 L175.7,431.3 L177.5,430.1 L179.3,429.0 L181.1,427.9 L182.9,426.9 L184.7,425.9 L186.5,424.9 L188.3,424.0 L190.1,423.1 L191.9,422.2 L193.7,421.4 L195.5,420.7 L197.3,419.9 L199.1,419.2 L200.9,418.6 L202.7,418.0 L204.5,417.4 L206.3,416.8 L208.1,416.4 L209.9,415.9 L211.7,415.5 L213.5,415.1 L215.3,414.8 L217.2,414.6 L219.0,414.3 L220.8,414.2 L222.6,414.1 L224.4,414.0 L226.2,414.0 L228.0,414.0 L229.8,414.1 L231.6,414.2 L233.4,414.4 L235.2,414.7 L237.0,415.0 L238.8,415.4 L240.6,415.9 L242.4,416.4 L244.2,417.0 L246.0,417.7 L247.8,418.4 L249.6,419.3 L251.4,420.2 L253.2,421.2 L255.0,422.3 L256.8,423.6 L258.6,424.9 L260.4,426.4 L262.2,428.0 L264.0,429.8 L265.8,431.7 L267.6,433.8 L269.4,436.2 L271.2,438.7 L273.0,441.6 L274.8,444.8 L276.7,448.3 L278.5,452.4 L280.3,457.0 L282.1,462.3 L282.2,462.9 L282.4,463.5 L282.6,464.1 L282.7,464.6 L282.9,465.2 L283.1,465.8 L283.3,466.5 L283.4,467.1 L283.6,467.7 L283.8,468.4 L283.9,469.1 L284.1,469.7 L284.3,470.4 L284.5,471.1 L284.6,471.9 L284.8,472.6 L285.0,473.4 L285.1,474.1 L285.3,474.9 L285.5,475.7 L285.7,476.5 L285.8,477.4 L286.0,478.2 L286.2,479.1 L286.3,480.0 L286.5,481.0 L286.7,481.9 L286.9,482.9 L287.0,483.9 L287.2,484.9 L287.4,486.0 L287.5,487.1 L287.7,488.2 L287.9,489.3 L288.1,490.5 L288.2,491.7 L288.4,493.0 L288.6,494.3 L288.7,495.6 L288.9,497.0 L289.1,498.4 L289.3,499.9 L289.4,501.4 L289.6,502.9 L289.8,504.4 L289.9,506.0 L290.1,507.6 L290.3,509.1 L290.5,510.5 L291.0,506.8 L291.5,510.8 L291.7,509.5 L291.9,508.1 L292.1,506.7 L292.2,505.2 L292.4,503.8 L292.6,502.3 L292.7,500.9 L292.9,499.5 L293.1,498.1 L293.3,496.8 L293.4,495.5 L293.6,494.2 L293.8,493.0 L293.9,491.8 L294.1,490.6 L294.3,489.5 L294.5,488.4 L294.6,487.3 L294.8,486.3 L295.0,485.2 L295.1,484.2 L295.3,483.3 L295.5,482.3 L295.7,481.4 L295.8,480.5 L296.0,479.6 L296.2,478.7 L296.3,477.9 L296.5,477.0 L296.7,476.2 L296.9,475.4 L297.0,474.7 L297.2,473.9 L297.4,473.2 L297.5,472.4 L297.7,471.7 L297.9,471.0 L298.1,470.3 L298.2,469.6 L298.4,469.0 L298.6,468.3 L298.7,467.7 L298.9,467.1 L299.1,466.4 L299.3,465.8 L299.4,465.2 L299.6,464.6 L299.8,464.1 L299.9,463.5 L301.7,458.0 L303.5,453.3 L305.3,449.1 L307.2,445.5 L309.0,442.2 L310.8,439.3 L312.6,436.6 L314.4,434.2 L316.2,432.0 L318.0,430.0 L319.8,428.1 L321.6,426.5 L323.4,424.9 L325.2,423.5 L327.0,422.2 L328.8,421.0 L330.6,420.0 L332.4,419.0 L334.2,418.1 L336.0,417.3 L337.8,416.6 L339.6,415.9 L341.4,415.4 L343.2,414.9 L345.0,414.4 L346.8,414.1 L348.6,413.8 L350.4,413.5 L352.2,413.4 L354.0,413.2 L355.8,413.2 L357.6,413.2 L359.4,413.2 L361.2,413.3 L363.0,413.4 L364.8,413.6 L366.7,413.9 L368.5,414.2 L370.3,414.5 L372.1,414.9 L373.9,415.3 L375.7,415.8 L377.5,416.3 L379.3,416.8 L381.1,417.4 L382.9,418.1 L384.7,418.7 L386.5,419.4 L388.3,420.2 L390.1,421.0 L391.9,421.8 L393.7,422.7 L395.5,423.6 L397.3,424.6 L399.1,425.6 L400.9,426.6 L402.7,427.6 L404.5,428.7 L406.3,429.9 L408.1,431.0 L409.9,432.2 L411.7,433.5 L413.5,434.8 L415.3,436.1 L417.1,437.4 L418.9,438.8 L420.7,440.2 L422.5,441.6 L424.3,443.1 L426.2,444.6 L428.0,446.2 L429.8,447.8 L431.6,449.4 L433.4,451.0 L435.2,452.7 L437.0,454.4 L438.8,456.2 L440.6,457.9 L442.4,459.7 L444.2,461.6 L446.0,463.5 L447.8,465.4 L449.6,467.3 L451.4,469.3 L453.2,471.3 L455.0,473.3 L456.8,475.4 L458.6,477.5 L460.4,479.6 L462.2,481.7 L464.0,483.9 L465.8,486.1 L467.6,488.4 L469.4,490.7 L471.2,493.0 L473.0,495.3 L474.8,497.7 L476.6,500.1 L478.4,502.5 L480.2,505.0 L482.0,507.5 L483.8,510.0 L485.7,512.6 L487.5,515.1 L489.3,517.8 L491.1,520.4 L492.9,523.1 L494.7,525.8 L496.5,528.5 L498.3,531.3 L500.1,534.1 L501.9,536.9 L503.7,539.7 L505.5,542.6 L507.3,545.5 L509.1,548.5 L510.9,551.5 L512.7,554.5 L514.5,557.5"/>
<path d="M67.5,578.1 L69.3,575.2 L71.1,572.2 L72.9,569.3 L74.7,566.4 L76.5,563.5 L78.3,560.7 L80.1,557.9 L81.9,555.1 L83.7,552.4 L85.5,549.6 L87.3,546.9 L89.1,544.3 L90.9,541.6 L92.7,539.0 L94.5,536.5 L96.3,533.9 L98.2,531.4 L100.0,528.9 L101.8,526.5 L103.6,524.0 L105.4,521.6 L107.2,519.3 L109.0,516.9 L110.8,514.6 L112.6,512.3 L114.4,510.1 L116.2,507.9 L118.0,505.7 L119.8,503.5 L121.6,501.4 L123.4,499.3 L125.2,497.2 L127.0,495.2 L128.8,493.2 L130.6,491.2 L132.4,489.3 L134.2,487.3 L136.0,485.5 L137.8,483.6 L139.6,481.8 L141.4,480.0 L143.2,478.2 L145.0,476.5 L146.8,474.8 L148.6,473.1 L150.4,471.5 L152.2,469.9 L154.0,468.3 L155.8,466.8 L157.7,465.3 L159.5,463.8 L161.3,462.4 L163.1,461.0 L164.9,459.6 L166.7,458.3 L168.5,457.0 L170.3,455.7 L172.1,454.4 L173.9,453.2 L175.7,452.1 L177.5,450.9 L179.3,449.8 L181.1,448.8 L182.9,447.7 L184.7,446.7 L186.5,445.8 L188.3,444.9 L190.1,444.0 L191.9,443.1 L193.7,442.3 L195.5,441.5 L197.3,440.8 L199.1,440.1 L200.9,439.5 L202.7,438.8 L204.5,438.3 L206.3,437.7 L208.1,437.2 L209.9,436.8 L211.7,436.4 L213.5,436.0 L215.3,435.7 L217.2,435.4 L219.0,435.2 L220.8,435.0 L222.6,434.8 L224.4,434.7 L226.2,434.7 L228.0,434.7 L229.8,434.8 L231.6,434.9 L233.4,435.1 L235.2,435.3 L237.0,435.6 L238.8,435.9 L240.6,436.4 L242.4,436.8 L244.2,437.4 L246.0,438.0 L247.8,438.7 L249.6,439.5 L251.4,440.4 L253.2,441.3 L255.0,442.4 L256.8,443.5 L258.6,444.8 L260.4,446.1 L262.2,447.6 L264.0,449.3 L265.8,451.1 L267.6,453.0 L269.4,455.2 L271.2,457.5 L273.0,460.1 L274.8,463.0 L276.7,466.2 L278.5,469.8 L280.3,473.8 L282.1,478.5 L282.2,478.9 L282.4,479.4 L282.6,479.9 L282.7,480.4 L282.9,480.9 L283.1,481.4 L283.3,482.0 L283.4,482.5 L283.6,483.0 L283.8,483.6 L283.9,484.1 L284.1,484.7 L284.3,485.2 L284.5,485.8 L284.6,486.4 L284.8,487.0 L285.0,487.6 L285.1,488.2 L285.3,488.9 L285.5,489.5 L285.7,490.2 L285.8,490.8 L286.0,491.5 L286.2,492.2 L286.3,492.9 L286.5,493.6 L286.7,494.3 L286.9,495.1 L287.0,495.8 L287.2,496.6 L287.4,497.4 L287.5,498.1 L287.7,498.9 L287.9,499.8 L288.1,500.6 L288.2,501.4 L288.4,502.3 L288.6,503.1 L288.7,504.0 L288.9,504.9 L289.1,505.8 L289.3,506.6 L289.4,507.5 L289.6,508.4 L289.8,509.2 L289.9,510.0 L290.1,510.8 L290.3,511.5 L290.5,512.1 L291.0,506.8 L291.5,512.0 L291.7,511.4 L291.9,510.7 L292.1,509.9 L292.2,509.1 L292.4,508.3 L292.6,507.4 L292.7,506.5 L292.9,505.6 L293.1,504.8 L293.3,503.9 L293.4,503.0 L293.6,502.2 L293.8,501.3 L293.9,500.5 L294.1,499.6 L294.3,498.8 L294.5,498.0 L294.6,497.2 L294.8,496.5 L295.0,495.7 L295.1,495.0 L295.3,494.2 L295.5,493.5 L295.7,492.8 L295.8,492.1 L296.0,491.4 L296.2,490.7 L296.3,490.1 L296.5,489.4 L296.7,488.8 L296.9,488.2 L297.0,487.6 L297.2,487.0 L297.4,486.4 L297.5,485.8 L297.7,485.2 L297.9,484.6 L298.1,484.1 L298.2,483.5 L298.4,483.0 L298.6,482.5 L298.7,481.9 L298.9,481.4 L299.1,480.9 L299.3,480.4 L299.4,479.9 L299.6,479.4 L299.8,479.0 L299.9,478.5 L301.7,473.9 L303.5,469.9 L305.3,466.4 L307.2,463.2 L309.0,460.4 L310.8,457.8 L312.6,455.5 L314.4,453.4 L316.2,451.5 L318.0,449.7 L319.8,448.1 L321.6,446.6 L323.4,445.3 L325.2,444.1 L327.0,442.9 L328.8,441.9 L330.6,441.0 L332.4,440.1 L334.2,439.4 L336.0,438.7 L337.8,438.1 L339.6,437.5 L341.4,437.1 L343.2,436.7 L345.0,436.3 L346.8,436.0 L348.6,435.8 L350.4,435.7 L352.2,435.5 L354.0,435.5 L355.8,435.5 L357.6,435.5 L359.4,435.6 L361.2,435.8 L363.0,436.0 L364.8,436.2 L366.7,436.5 L368.5,436.8 L370.3,437.2 L372.1,437.6 L373.9,438.0 L375.7,438.5 L377.5,439.1 L379.3,439.6 L381.1,440.2 L382.9,440.9 L384.7,441.6 L386.5,442.3 L388.3,443.1 L390.1,443.9 L391.9,444.7 L393.7,445.6 L395.5,446.5 L397.3,447.5 L399.1,448.5 L400.9,449.5 L402.7,450.6 L404.5,451.7 L406.3,452.8 L408.1,453.9 L409.9,455.1 L411.7,456.4 L413.5,457.6 L415.3,458.9 L417.1,460.2 L418.9,461.6 L420.7,463.0 L422.5,464.4 L424.3,465.9 L426.2,467.4 L428.0,468.9 L429.8,470.5 L431.6,472.0 L433.4,473.7 L435.2,475.3 L437.0,477.0 L438.8,478.7 L440.6,480.4 L442.4,482.2 L444.2,484.0 L446.0,485.9 L447.8,487.7 L449.6,489.6 L451.4,491.6 L453.2,493.5 L455.0,495.5 L456.8,497.5 L458.6,499.6 L460.4,501.6 L462.2,503.8 L464.0,505.9 L465.8,508.1 L467.6,510.3 L469.4,512.5 L471.2,514.7 L473.0,517.0 L474.8,519.3 L476.6,521.7 L478.4,524.1 L480.2,526.5 L482.0,528.9 L483.8,531.4 L485.7,533.8 L487.5,536.4 L489.3,538.9 L491.1,541.5 L492.9,544.1 L494.7,546.7 L496.5,549.4 L498.3,552.1 L500.1,554.8 L501.9,557.6 L503.7,560.3 L505.5,563.1 L507.3,566.0 L509.1,568.8 L510.9,571.7 L512.7,574.7 L514.5,577.6"/>
<path d="M67.5,603.6 L69.3,600.7 L71.1,597.8 L72.9,594.9 L74.7,592.1 L76.5,589.3 L78.3,586.5 L80.1,583.7 L81.9,581.0 L83.7,578.3 L85.5,575.6 L87.3,573.0 L89.1,570.4 L90.9,567.8 L92.7,565.2 L94.5,562.7 L96.3,560.2 L98.2,557.7 L100.0,555.3 L101.8,552.8 L103.6,550.5 L105.4,548.1 L107.2,545.8 L109.0,543.5 L110.8,541.2 L112.6,539.0 L114.4,536.8 L116.2,534.6 L118.0,532.4 L119.8,530.3 L121.6,528.2 L123.4,526.2 L125.2,524.1 L127.0,522.1 L128.8,520.2 L130.6,518.2 L132.4,516.3 L134.2,514.4 L136.0,512.6 L137.8,510.8 L139.6,509.0 L141.4,507.2 L143.2,505.5 L145.0,503.8 L146.8,502.1 L148.6,500.5 L150.4,498.9 L152.2,497.3 L154.0,495.8 L155.8,494.3 L157.7,492.8 L159.5,491.3 L161.3,489.9 L163.1,488.5 L164.9,487.2 L166.7,485.9 L168.5,484.6 L170.3,483.4 L172.1,482.1 L173.9,481.0 L175.7,479.8 L177.5,478.7 L179.3,477.6 L181.1,476.6 L182.9,475.6 L184.7,474.6 L186.5,473.6 L188.3,472.7 L190.1,471.9 L191.9,471.0 L193.7,470.2 L195.5,469.5 L197.3,468.7 L199.1,468.0 L200.9,467.4 L202.7,466.8 L204.5,466.2 L206.3,465.7 L208.1,465.2 L209.9,464.7 L211.7,464.3 L213.5,463.9 L215.3,463.6 L217.2,463.3 L219.0,463.1 L220.8,462.9 L222.6,462.7 L224.4,462.6 L226.2,462.6 L228.0,462.6 L229.8,462.6 L231.6,462.7 L233.4,462.8 L235.2,463.0 L237.0,463.3 L238.8,463.6 L240.6,463.9 L242.4,464.4 L244.2,464.8 L246.0,465.4 L247.8,466.0 L249.6,466.7 L251.4,467.5 L253.2,468.3 L255.0,469.2 L256.8,470.2 L258.6,471.3 L260.4,472.5 L262.2,473.8 L264.0,475.2 L265.8,476.7 L267.6,478.3 L269.4,480.1 L271.2,482.0 L273.0,484.1 L274.8,486.4 L276.7,488.8 L278.5,491.5 L280.3,494.4 L282.1,497.6 L282.2,497.9 L282.4,498.2 L282.6,498.5 L282.7,498.8 L282.9,499.1 L283.1,499.5 L283.3,499.8 L283.4,500.1 L283.6,500.5 L283.8,500.8 L283.9,501.1 L284.1,501.5 L284.3,501.8 L284.5,502.1 L284.6,502.5 L284.8,502.8 L285.0,503.2 L285.1,503.5 L285.3,503.9 L285.5,504.2 L285.7,504.6 L285.8,504.9 L286.0,505.3 L286.2,505.6 L286.3,506.0 L286.5,506.3 L286.7,506.7 L286.9,507.0 L287.0,507.4 L287.2,507.7 L287.4,508.1 L287.5,508.4 L287.7,508.8 L287.9,509.1 L288.1,509.4 L288.2,509.8 L288.4,510.1 L288.6,510.4 L288.7,510.7 L288.9,511.0 L289.1,511.3 L289.3,511.5 L289.4,511.8 L289.6,512.0 L289.8,512.2 L289.9,512.4 L290.1,512.6 L290.3,512.7 L290.5,512.8 L291.0,506.8 L291.5,512.9 L291.7,512.7 L291.9,512.6 L292.1,512.5 L292.2,512.3 L292.4,512.1 L292.6,511.9 L292.7,511.6 L292.9,511.4 L293.1,511.1 L293.3,510.8 L293.4,510.5 L293.6,510.3 L293.8,509.9 L293.9,509.6 L294.1,509.3 L294.3,509.0 L294.5,508.7 L294.6,508.3 L294.8,508.0 L295.0,507.7 L295.1,507.3 L295.3,507.0 L295.5,506.7 L295.7,506.3 L295.8,506.0 L296.0,505.6 L296.2,505.3 L296.3,504.9 L296.5,504.6 L296.7,504.3 L296.9,503.9 L297.0,503.6 L297.2,503.2 L297.4,502.9 L297.5,502.6 L297.7,502.2 L297.9,501.9 L298.1,501.6 L298.2,501.2 L298.4,500.9 L298.6,500.6 L298.7,500.3 L298.9,499.9 L299.1,499.6 L299.3,499.3 L299.4,499.0 L299.6,498.7 L299.8,498.4 L299.9,498.1 L301.7,494.9 L303.5,492.0 L305.3,489.4 L307.2,486.9 L309.0,484.6 L310.8,482.5 L312.6,480.6 L314.4,478.8 L316.2,477.1 L318.0,475.6 L319.8,474.1 L321.6,472.8 L323.4,471.6 L325.2,470.5 L327.0,469.4 L328.8,468.5 L330.6,467.6 L332.4,466.8 L334.2,466.1 L336.0,465.5 L337.8,464.9 L339.6,464.4 L341.4,464.0 L343.2,463.6 L345.0,463.2 L346.8,463.0 L348.6,462.7 L350.4,462.6 L352.2,462.5 L354.0,462.4 L355.8,462.4 L357.6,462.4 L359.4,462.5 L361.2,462.6 L363.0,462.8 L364.8,463.0 L366.7,463.3 L368.5,463.6 L370.3,463.9 L372.1,464.3 L373.9,464.7 L375.7,465.2 L377.5,465.7 L379.3,466.3 L381.1,466.9 L382.9,467.5 L384.7,468.1 L386.5,468.9 L388.3,469.6 L390.1,470.4 L391.9,471.2 L393.7,472.0 L395.5,472.9 L397.3,473.8 L399.1,474.8 L400.9,475.8 L402.7,476.8 L404.5,477.9 L406.3,478.9 L408.1,480.1 L409.9,481.2 L411.7,482.4 L413.5,483.7 L415.3,484.9 L417.1,486.2 L418.9,487.5 L420.7,488.9 L422.5,490.3 L424.3,491.7 L426.2,493.2 L428.0,494.6 L429.8,496.2 L431.6,497.7 L433.4,499.3 L435.2,500.9 L437.0,502.5 L438.8,504.2 L440.6,505.9 L442.4,507.7 L444.2,509.4 L446.0,511.2 L447.8,513.0 L449.6,514.9 L451.4,516.8 L453.2,518.7 L455.0,520.7 L456.8,522.6 L458.6,524.6 L460.4,526.7 L462.2,528.7 L464.0,530.8 L465.8,533.0 L467.6,535.1 L469.4,537.3 L471.2,539.5 L473.0,541.8 L474.8,544.0 L476.6,546.3 L478.4,548.7 L480.2,551.0 L482.0,553.4 L483.8,555.9 L485.7,558.3 L487.5,560.8 L489.3,563.3 L491.1,565.8 L492.9,568.4 L494.7,571.0 L496.5,573.6 L498.3,576.2 L500.1,578.9 L501.9,581.6 L503.7,584.4 L505.5,587.1 L507.3,589.9 L509.1,592.7 L510.9,595.6 L512.7,598.5 L514.5,601.4"/>
<path d="M67.5,621.0 L69.3,618.0 L71.1,615.1 L72.9,612.2 L74.7,609.4 L76.5,606.5 L78.3,603.7 L80.1,600.9 L81.9,598.2 L83.7,595.5 L85.5,592.8 L87.3,590.1 L89.1,587.5 L90.9,584.9 L92.7,582.3 L94.5,579.7 L96.3,577.2 L98.2,574.7 L100.0,572.3 L101.8,569.8 L103.6,567.4 L105.4,565.1 L107.2,562.7 L109.0,560.4 L110.8,558.1 L112.6,555.9 L114.4,553.7 L116.2,551.5 L118.0,549.3 L119.8,547.2 L121.6,545.1 L123.4,543.0 L125.2,540.9 L127.0,538.9 L128.8,536.9 L130.6,535.0 L132.4,533.1 L134.2,531.2 L136.0,529.3 L137.8,527.5 L139.6,525.7 L141.4,523.9 L143.2,522.2 L145.0,520.5 L146.8,518.8 L148.6,517.1 L150.4,515.5 L152.2,513.9 L154.0,512.4 L155.8,510.9 L157.7,509.4 L159.5,507.9 L161.3,506.5 L163.1,505.1 L164.9,503.8 L166.7,502.4 L168.5,501.2 L170.3,499.9 L172.1,498.7 L173.9,497.5 L175.7,496.3 L177.5,495.2 L179.3,494.1 L181.1,493.0 L182.9,492.0 L184.7,491.0 L186.5,490.1 L188.3,489.2 L190.1,488.3 L191.9,487.4 L193.7,486.6 L195.5,485.8 L197.3,485.1 L199.1,484.4 L200.9,483.7 L202.7,483.1 L204.5,482.5 L206.3,482.0 L208.1,481.5 L209.9,481.0 L211.7,480.6 L213.5,480.2 L215.3,479.8 L217.2,479.5 L219.0,479.2 L220.8,479.0 L222.6,478.8 L224.4,478.7 L226.2,478.6 L228.0,478.6 L229.8,478.6 L231.6,478.6 L233.4,478.7 L235.2,478.8 L237.0,479.0 L238.8,479.3 L240.6,479.6 L242.4,479.9 L244.2,480.3 L246.0,480.8 L247.8,481.3 L249.6,481.9 L251.4,482.6 L253.2,483.3 L255.0,484.0 L256.8,484.9 L258.6,485.8 L260.4,486.8 L262.2,487.9 L264.0,489.0 L265.8,490.3 L267.6,491.6 L269.4,493.0 L271.2,494.5 L273.0,496.1 L274.8,497.8 L276.7,499.6 L278.5,501.4 L280.3,503.4 L282.1,505.4 L282.2,505.6 L282.4,505.8 L282.6,506.0 L282.7,506.2 L282.9,506.4 L283.1,506.6 L283.3,506.8 L283.4,507.0 L283.6,507.2 L283.8,507.4 L283.9,507.6 L284.1,507.7 L284.3,507.9 L284.5,508.1 L284.6,508.3 L284.8,508.5 L285.0,508.7 L285.1,508.9 L285.3,509.1 L285.5,509.2 L285.7,509.4 L285.8,509.6 L286.0,509.8 L286.2,510.0 L286.3,510.1 L286.5,510.3 L286.7,510.5 L286.9,510.6 L287.0,510.8 L287.2,511.0 L287.4,511.1 L287.5,511.3 L287.7,511.4 L287.9,511.6 L288.1,511.7 L288.2,511.8 L288.4,512.0 L288.6,512.1 L288.7,512.2 L288.9,512.3 L289.1,512.4 L289.3,512.5 L289.4,512.6 L289.6,512.7 L289.8,512.8 L289.9,512.8 L290.1,512.9 L290.3,512.9 L290.5,513.0 L291.0,506.8 L291.5,513.0 L291.7,512.9 L291.9,512.9 L292.1,512.8 L292.2,512.8 L292.4,512.7 L292.6,512.6 L292.7,512.5 L292.9,512.5 L293.1,512.4 L293.3,512.3 L293.4,512.2 L293.6,512.0 L293.8,511.9 L293.9,511.8 L294.1,511.7 L294.3,511.5 L294.5,511.4 L294.6,511.3 L294.8,511.1 L295.0,511.0 L295.1,510.8 L295.3,510.6 L295.5,510.5 L295.7,510.3 L295.8,510.2 L296.0,510.0 L296.2,509.8 L296.3,509.7 L296.5,509.5 L296.7,509.3 L296.9,509.1 L297.0,508.9 L297.2,508.8 L297.4,508.6 L297.5,508.4 L297.7,508.2 L297.9,508.0 L298.1,507.9 L298.2,507.7 L298.4,507.5 L298.6,507.3 L298.7,507.1 L298.9,506.9 L299.1,506.7 L299.3,506.6 L299.4,506.4 L299.6,506.2 L299.8,506.0 L299.9,505.8 L301.7,503.8 L303.5,501.9 L305.3,500.1 L307.2,498.3 L309.0,496.6 L310.8,495.0 L312.6,493.5 L314.4,492.1 L316.2,490.8 L318.0,489.5 L319.8,488.4 L321.6,487.3 L323.4,486.3 L325.2,485.3 L327.0,484.5 L328.8,483.7 L330.6,482.9 L332.4,482.3 L334.2,481.7 L336.0,481.1 L337.8,480.6 L339.6,480.2 L341.4,479.8 L343.2,479.5 L345.0,479.2 L346.8,479.0 L348.6,478.8 L350.4,478.7 L352.2,478.6 L354.0,478.6 L355.8,478.6 L357.6,478.7 L359.4,478.8 L361.2,478.9 L363.0,479.1 L364.8,479.4 L366.7,479.7 L368.5,480.0 L370.3,480.3 L372.1,480.7 L373.9,481.2 L375.7,481.7 L377.5,482.2 L379.3,482.7 L381.1,483.3 L382.9,484.0 L384.7,484.6 L386.5,485.3 L388.3,486.1 L390.1,486.9 L391.9,487.7 L393.7,488.5 L395.5,489.4 L397.3,490.3 L399.1,491.3 L400.9,492.3 L402.7,493.3 L404.5,494.3 L406.3,495.4 L408.1,496.5 L409.9,497.7 L411.7,498.9 L413.5,500.1 L415.3,501.4 L417.1,502.7 L418.9,504.0 L420.7,505.3 L422.5,506.7 L424.3,508.1 L426.2,509.6 L428.0,511.1 L429.8,512.6 L431.6,514.1 L433.4,515.7 L435.2,517.3 L437.0,518.9 L438.8,520.6 L440.6,522.3 L442.4,524.0 L444.2,525.8 L446.0,527.6 L447.8,529.4 L449.6,531.3 L451.4,533.1 L453.2,535.0 L455.0,537.0 L456.8,539.0 L458.6,541.0 L460.4,543.0 L462.2,545.1 L464.0,547.1 L465.8,549.3 L467.6,551.4 L469.4,553.6 L471.2,555.8 L473.0,558.0 L474.8,560.3 L476.6,562.6 L478.4,564.9 L480.2,567.3 L482.0,569.7 L483.8,572.1 L485.7,574.5 L487.5,577.0 L489.3,579.5 L491.1,582.0 L492.9,584.6 L494.7,587.2 L496.5,589.8 L498.3,592.5 L500.1,595.1 L501.9,597.8 L503.7,600.6 L505.5,603.3 L507.3,606.1 L509.1,608.9 L510.9,611.8 L512.7,614.6 L514.5,617.5"/>
<path d="M67.5,641.4 L69.3,638.6 L71.1,635.9 L72.9,633.2 L74.7,630.5 L76.5,627.8 L78.3,625.2 L80.1,622.6 L81.9,620.0 L83.7,617.4 L85.5,614.9 L87.3,612.4 L89.1,609.9 L90.9,607.4 L92.7,605.0 L94.5,602.6 L96.3,600.2 L98.2,597.9 L100.0,595.5 L101.8,593.2 L103.6,590.9 L105.4,588.7 L107.2,586.5 L109.0,584.3 L110.8,582.1 L112.6,580.0 L114.4,577.8 L116.2,575.7 L118.0,573.7 L119.8,571.6 L121.6,569.6 L123.4,567.6 L125.2,565.7 L127.0,563.7 L128.8,561.8 L130.6,559.9 L132.4,558.1 L134.2,556.3 L136.0,554.5 L137.8,552.7 L139.6,550.9 L141.4,549.2 L143.2,547.5 L145.0,545.9 L146.8,544.2 L148.6,542.6 L150.4,541.0 L152.2,539.5 L154.0,537.9 L155.8,536.4 L157.7,535.0 L159.5,533.5 L161.3,532.1 L163.1,530.7 L164.9,529.3 L166.7,528.0 L168.5,526.7 L170.3,525.4 L172.1,524.2 L173.9,522.9 L175.7,521.8 L177.5,520.6 L179.3,519.5 L181.1,518.3 L182.9,517.3 L184.7,516.2 L186.5,515.2 L188.3,514.2 L190.1,513.2 L191.9,512.3 L193.7,511.4 L195.5,510.5 L197.3,509.7 L199.1,508.9 L200.9,508.1 L202.7,507.4 L204.5,506.6 L206.3,506.0 L208.1,505.3 L209.9,504.7 L211.7,504.1 L213.5,503.5 L215.3,503.0 L217.2,502.5 L219.0,502.0 L220.8,501.6 L222.6,501.2 L224.4,500.9 L226.2,500.5 L228.0,500.3 L229.8,500.0 L231.6,499.8 L233.4,499.6 L235.2,499.5 L237.0,499.3 L238.8,499.3 L240.6,499.2 L242.4,499.2 L244.2,499.3 L246.0,499.4 L247.8,499.5 L249.6,499.7 L251.4,499.9 L253.2,500.1 L255.0,500.4 L256.8,500.8 L258.6,501.1 L260.4,501.6 L262.2,502.1 L264.0,502.6 L265.8,503.1 L267.6,503.8 L269.4,504.4 L271.2,505.1 L273.0,505.9 L274.8,506.7 L276.7,507.5 L278.5,508.4 L280.3,509.2 L282.1,510.1 L282.2,510.2 L282.4,510.3 L282.6,510.4 L282.7,510.4 L282.9,510.5 L283.1,510.6 L283.3,510.7 L283.4,510.8 L283.6,510.8 L283.8,510.9 L283.9,511.0 L284.1,511.1 L284.3,511.1 L284.5,511.2 L284.6,511.3 L284.8,511.4 L285.0,511.4 L285.1,511.5 L285.3,511.6 L285.5,511.7 L285.7,511.7 L285.8,511.8 L286.0,511.9 L286.2,511.9 L286.3,512.0 L286.5,512.1 L286.7,512.1 L286.9,512.2 L287.0,512.3 L287.2,512.3 L287.4,512.4 L287.5,512.4 L287.7,512.5 L287.9,512.5 L288.1,512.6 L288.2,512.6 L288.4,512.7 L288.6,512.7 L288.7,512.7 L288.9,512.8 L289.1,512.8 L289.3,512.8 L289.4,512.9 L289.6,512.9 L289.8,512.9 L289.9,512.9 L290.1,513.0 L290.3,513.0 L290.5,513.0 L291.0,506.8 L291.5,513.0 L291.7,513.0 L291.9,513.0 L292.1,513.0 L292.2,513.0 L292.4,512.9 L292.6,512.9 L292.7,512.9 L292.9,512.9 L293.1,512.9 L293.3,512.9 L293.4,512.8 L293.6,512.8 L293.8,512.8 L293.9,512.8 L294.1,512.7 L294.3,512.7 L294.5,512.7 L294.6,512.6 L294.8,512.6 L295.0,512.6 L295.1,512.5 L295.3,512.5 L295.5,512.5 L295.7,512.4 L295.8,512.4 L296.0,512.4 L296.2,512.3 L296.3,512.3 L296.5,512.2 L296.7,512.2 L296.9,512.1 L297.0,512.1 L297.2,512.0 L297.4,512.0 L297.5,512.0 L297.7,511.9 L297.9,511.9 L298.1,511.8 L298.2,511.8 L298.4,511.7 L298.6,511.6 L298.7,511.6 L298.9,511.5 L299.1,511.5 L299.3,511.4 L299.4,511.4 L299.6,511.3 L299.8,511.3 L299.9,511.2 L301.7,510.6 L303.5,509.9 L305.3,509.3 L307.2,508.6 L309.0,507.9 L310.8,507.3 L312.6,506.7 L314.4,506.1 L316.2,505.5 L318.0,504.9 L319.8,504.4 L321.6,504.0 L323.4,503.5 L325.2,503.1 L327.0,502.8 L328.8,502.4 L330.6,502.1 L332.4,501.9 L334.2,501.7 L336.0,501.5 L337.8,501.4 L339.6,501.3 L341.4,501.2 L343.2,501.2 L345.0,501.2 L346.8,501.2 L348.6,501.3 L350.4,501.4 L352.2,501.6 L354.0,501.8 L355.8,502.0 L357.6,502.3 L359.4,502.6 L361.2,502.9 L363.0,503.3 L364.8,503.7 L366.7,504.1 L368.5,504.5 L370.3,505.0 L372.1,505.6 L373.9,506.1 L375.7,506.7 L377.5,507.4 L379.3,508.0 L381.1,508.7 L382.9,509.5 L384.7,510.2 L386.5,511.0 L388.3,511.8 L390.1,512.7 L391.9,513.6 L393.7,514.5 L395.5,515.4 L397.3,516.4 L399.1,517.4 L400.9,518.4 L402.7,519.5 L404.5,520.6 L406.3,521.7 L408.1,522.9 L409.9,524.1 L411.7,525.3 L413.5,526.5 L415.3,527.8 L417.1,529.1 L418.9,530.5 L420.7,531.8 L422.5,533.2 L424.3,534.7 L426.2,536.1 L428.0,537.6 L429.8,539.1 L431.6,540.6 L433.4,542.2 L435.2,543.8 L437.0,545.4 L438.8,547.1 L440.6,548.8 L442.4,550.5 L444.2,552.2 L446.0,554.0 L447.8,555.8 L449.6,557.6 L451.4,559.5 L453.2,561.3 L455.0,563.3 L456.8,565.2 L458.6,567.2 L460.4,569.2 L462.2,571.2 L464.0,573.2 L465.8,575.3 L467.6,577.4 L469.4,579.5 L471.2,581.7 L473.0,583.9 L474.8,586.1 L476.6,588.3 L478.4,590.6 L480.2,592.9 L482.0,595.2 L483.8,597.6 L485.7,599.9 L487.5,602.4 L489.3,604.8 L491.1,607.2 L492.9,609.7 L494.7,612.2 L496.5,614.8 L498.3,617.3 L500.1,619.9 L501.9,622.6 L503.7,625.2 L505.5,627.9 L507.3,630.6 L509.1,633.3 L510.9,636.1 L512.7,638.9 L514.5,641.7"/>
<path d="M67.5,658.3 L69.3,655.5 L71.1,652.7 L72.9,649.9 L74.7,647.2 L76.5,644.5 L78.3,641.8 L80.1,639.1 L81.9,636.4 L83.7,633.8 L85.5,631.2 L87.3,628.6 L89.1,626.1 L90.9,623.5 L92.7,621.0 L94.5,618.6 L96.3,616.1 L98.2,613.7 L100.0,611.3 L101.8,608.9 L103.6,606.5 L105.4,604.2 L107.2,601.9 L109.0,599.6 L110.8,597.4 L112.6,595.2 L114.4,593.0 L116.2,590.8 L118.0,588.7 L119.8,586.5 L121.6,584.4 L123.4,582.4 L125.2,580.3 L127.0,578.3 L128.8,576.3 L130.6,574.3 L132.4,572.4 L134.2,570.5 L136.0,568.6 L137.8,566.7 L139.6,564.9 L141.4,563.1 L143.2,561.3 L145.0,559.5 L146.8,557.8 L148.6,556.1 L150.4,554.4 L152.2,552.8 L154.0,551.1 L155.8,549.5 L157.7,547.9 L159.5,546.4 L161.3,544.9 L163.1,543.4 L164.9,541.9 L166.7,540.5 L168.5,539.0 L170.3,537.7 L172.1,536.3 L173.9,535.0 L175.7,533.6 L177.5,532.4 L179.3,531.1 L181.1,529.9 L182.9,528.7 L184.7,527.5 L186.5,526.4 L188.3,525.2 L190.1,524.2 L191.9,523.1 L193.7,522.1 L195.5,521.1 L197.3,520.1 L199.1,519.1 L200.9,518.2 L202.7,517.3 L204.5,516.5 L206.3,515.6 L208.1,514.8 L209.9,514.0 L211.7,513.3 L213.5,512.6 L215.3,511.9 L217.2,511.2 L219.0,510.6 L220.8,510.0 L222.6,509.5 L224.4,508.9 L226.2,508.4 L228.0,508.0 L229.8,507.5 L231.6,507.1 L233.4,506.7 L235.2,506.4 L237.0,506.1 L238.8,505.8 L240.6,505.6 L242.4,505.4 L244.2,505.2 L246.0,505.1 L247.8,505.0 L249.6,504.9 L251.4,504.9 L253.2,504.9 L255.0,505.0 L256.8,505.1 L258.6,505.2 L260.4,505.4 L262.2,505.6 L264.0,505.9 L265.8,506.2 L267.6,506.5 L269.4,506.9 L271.2,507.3 L273.0,507.8 L274.8,508.3 L276.7,508.9 L278.5,509.5 L280.3,510.1 L282.1,510.7 L282.2,510.8 L282.4,510.9 L282.6,510.9 L282.7,511.0 L282.9,511.0 L283.1,511.1 L283.3,511.2 L283.4,511.2 L283.6,511.3 L283.8,511.3 L283.9,511.4 L284.1,511.5 L284.3,511.5 L284.5,511.6 L284.6,511.6 L284.8,511.7 L285.0,511.7 L285.1,511.8 L285.3,511.9 L285.5,511.9 L285.7,512.0 L285.8,512.0 L286.0,512.1 L286.2,512.1 L286.3,512.2 L286.5,512.2 L286.7,512.3 L286.9,512.3 L287.0,512.4 L287.2,512.4 L287.4,512.5 L287.5,512.5 L287.7,512.6 L287.9,512.6 L288.1,512.6 L288.2,512.7 L288.4,512.7 L288.6,512.7 L288.7,512.8 L288.9,512.8 L289.1,512.8 L289.3,512.9 L289.4,512.9 L289.6,512.9 L289.8,512.9 L289.9,513.0 L290.1,513.0 L290.3,513.0 L290.5,513.0 L291.0,506.8 L291.5,513.0 L291.7,513.0 L291.9,513.0 L292.1,513.0 L292.2,513.0 L292.4,513.0 L292.6,512.9 L292.7,512.9 L292.9,512.9 L293.1,512.9 L293.3,512.9 L293.4,512.9 L293.6,512.8 L293.8,512.8 L293.9,512.8 L294.1,512.8 L294.3,512.8 L294.5,512.7 L294.6,512.7 L294.8,512.7 L295.0,512.7 L295.1,512.6 L295.3,512.6 L295.5,512.6 L295.7,512.5 L295.8,512.5 L296.0,512.5 L296.2,512.4 L296.3,512.4 L296.5,512.4 L296.7,512.3 L296.9,512.3 L297.0,512.3 L297.2,512.2 L297.4,512.2 L297.5,512.2 L297.7,512.1 L297.9,512.1 L298.1,512.0 L298.2,512.0 L298.4,512.0 L298.6,511.9 L298.7,511.9 L298.9,511.8 L299.1,511.8 L299.3,511.8 L299.4,511.7 L299.6,511.7 L299.8,511.6 L299.9,511.6 L301.7,511.1 L303.5,510.7 L305.3,510.2 L307.2,509.7 L309.0,509.3 L310.8,508.9 L312.6,508.5 L314.4,508.2 L316.2,507.8 L318.0,507.5 L319.8,507.3 L321.6,507.1 L323.4,506.9 L325.2,506.7 L327.0,506.6 L328.8,506.5 L330.6,506.5 L332.4,506.5 L334.2,506.5 L336.0,506.6 L337.8,506.7 L339.6,506.8 L341.4,506.9 L343.2,507.1 L345.0,507.4 L346.8,507.6 L348.6,507.9 L350.4,508.2 L352.2,508.6 L354.0,509.0 L355.8,509.4 L357.6,509.9 L359.4,510.3 L361.2,510.9 L363.0,511.4 L364.8,512.0 L366.7,512.6 L368.5,513.2 L370.3,513.9 L372.1,514.6 L373.9,515.3 L375.7,516.1 L377.5,516.9 L379.3,517.7 L381.1,518.5 L382.9,519.4 L384.7,520.3 L386.5,521.2 L388.3,522.2 L390.1,523.2 L391.9,524.2 L393.7,525.3 L395.5,526.3 L397.3,527.4 L399.1,528.6 L400.9,529.7 L402.7,530.9 L404.5,532.1 L406.3,533.4 L408.1,534.6 L409.9,535.9 L411.7,537.3 L413.5,538.6 L415.3,540.0 L417.1,541.4 L418.9,542.8 L420.7,544.3 L422.5,545.8 L424.3,547.3 L426.2,548.8 L428.0,550.4 L429.8,552.0 L431.6,553.6 L433.4,555.3 L435.2,557.0 L437.0,558.7 L438.8,560.4 L440.6,562.1 L442.4,563.9 L444.2,565.7 L446.0,567.6 L447.8,569.4 L449.6,571.3 L451.4,573.2 L453.2,575.2 L455.0,577.1 L456.8,579.1 L458.6,581.2 L460.4,583.2 L462.2,585.3 L464.0,587.4 L465.8,589.5 L467.6,591.6 L469.4,593.8 L471.2,596.0 L473.0,598.3 L474.8,600.5 L476.6,602.8 L478.4,605.1 L480.2,607.4 L482.0,609.8 L483.8,612.2 L485.7,614.6 L487.5,617.0 L489.3,619.5 L491.1,621.9 L492.9,624.5 L494.7,627.0 L496.5,629.5 L498.3,632.1 L500.1,634.7 L501.9,637.4 L503.7,640.0 L505.5,642.7 L507.3,645.5 L509.1,648.2 L510.9,651.0 L512.7,653.7 L514.5,656.6"/>
</g>
<g stroke="#000" stroke-width="2" fill="none" stroke-linecap="butt">
<path d="M67.5,5.8 V344.5"/>
<path d="M66.5,343.5 H515"/>
<path d="M67.5,344 V685"/>
<path d="M66.5,681.5 H515"/>
<path d="M61,6.7 H67.5"/>
<path d="M61,60.5 H67.5"/>
<path d="M61,114.2 H67.5"/>
<path d="M61,167.9 H67.5"/>
<path d="M61,221.7 H67.5"/>
<path d="M61,275.4 H67.5"/>
<path d="M61,329.2 H67.5"/>
<path d="M64,33.6 H67.5"/>
<path d="M64,87.3 H67.5"/>
<path d="M64,141.1 H67.5"/>
<path d="M64,194.8 H67.5"/>
<path d="M64,248.6 H67.5"/>
<path d="M64,302.3 H67.5"/>
<path d="M61,344.2 H67.5"/>
<path d="M61,400.5 H67.5"/>
<path d="M61,456.8 H67.5"/>
<path d="M61,513.0 H67.5"/>
<path d="M61,569.2 H67.5"/>
<path d="M61,625.5 H67.5"/>
<path d="M61,681.8 H67.5"/>
<path d="M64,372.4 H67.5"/>
<path d="M64,428.6 H67.5"/>
<path d="M64,484.9 H67.5"/>
<path d="M64,541.1 H67.5"/>
<path d="M64,597.4 H67.5"/>
<path d="M64,653.6 H67.5"/>
<path d="M112.2,343.5 V350.0"/>
<path d="M201.6,343.5 V350.0"/>
<path d="M291.0,343.5 V350.0"/>
<path d="M380.4,343.5 V350.0"/>
<path d="M469.8,343.5 V350.0"/>
<path d="M156.9,343.5 V347.3"/>
<path d="M246.3,343.5 V347.3"/>
<path d="M335.7,343.5 V347.3"/>
<path d="M425.1,343.5 V347.3"/>
<path d="M514.5,343.5 V347.3"/>
<path d="M112.2,681.5 V688.0"/>
<path d="M201.6,681.5 V688.0"/>
<path d="M291.0,681.5 V688.0"/>
<path d="M380.4,681.5 V688.0"/>
<path d="M469.8,681.5 V688.0"/>
<path d="M156.9,681.5 V685.3"/>
<path d="M246.3,681.5 V685.3"/>
<path d="M335.7,681.5 V685.3"/>
<path d="M425.1,681.5 V685.3"/>
<path d="M514.5,681.5 V685.3"/>
</g>
<text x="57.2" y="9.1" class="tl" text-anchor="end">105.4</text>
<text x="57.2" y="64.4" class="tl" text-anchor="end">105.2</text>
<text x="57.2" y="118.1" class="tl" text-anchor="end">105.0</text>
<text x="57.2" y="171.8" class="tl" text-anchor="end">104.8</text>
<text x="57.2" y="225.6" class="tl" text-anchor="end">104.6</text>
<text x="57.2" y="279.3" class="tl" text-anchor="end">104.4</text>
<text x="57.2" y="333.1" class="tl" text-anchor="end">104.2</text>
<text x="57.2" y="404.4" class="tl" text-anchor="end">1.0</text>
<text x="57.2" y="460.6" class="tl" text-anchor="end">0.5</text>
<text x="57.2" y="516.9" class="tl" text-anchor="end">0.0</text>
<text x="57.2" y="573.1" class="tl" text-anchor="end">-0.5</text>
<text x="57.2" y="629.4" class="tl" text-anchor="end">-1.0</text>
<text x="57.2" y="685.6" class="tl" text-anchor="end">-1.5</text>
<text x="57.2" y="348.1" class="tl" text-anchor="end">1.5</text>
<text x="112.0" y="702.5" class="tl" text-anchor="middle">-4</text>
<text x="201.4" y="702.5" class="tl" text-anchor="middle">-2</text>
<text x="291.3" y="702.5" class="tl" text-anchor="middle">0</text>
<text x="380.7" y="702.5" class="tl" text-anchor="middle">2</text>
<text x="470.1" y="702.5" class="tl" text-anchor="middle">4</text>
<text x="0" y="0" class="pl" transform="translate(81.8,20.6) scale(1.05,1)">(a)</text>
<text x="0" y="0" class="pl" transform="translate(80.6,377.6) scale(1.05,1)">(b)</text>
<text x="0" y="0" class="al" transform="translate(12.2,240.2) rotate(-90) scale(0.8,1)">&#961;</text>
<text x="0" y="0" class="sub" transform="translate(18.2,232.0) rotate(-90) scale(0.78,1)">xx</text>
<text x="0" y="0" class="al" transform="translate(12.2,216.0) rotate(-90) scale(1.05,1)">(Ohm/Square)</text>
<text x="0" y="0" class="al2" transform="translate(27.6,535) rotate(-90)">&#916;G (e<tspan class="sup" dy="-5.5">2</tspan><tspan dy="5.5">/h)</tspan></text>
<text x="291" y="732" class="xl" text-anchor="middle">Magnetic Field (T)</text>
</svg>
</body></html>
